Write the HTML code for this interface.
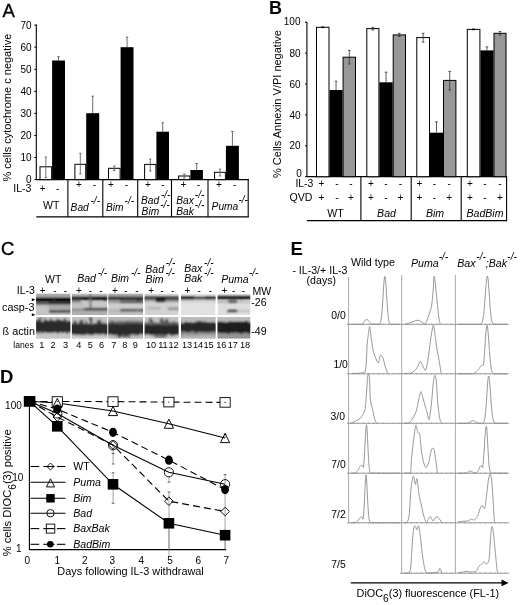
<!DOCTYPE html>
<html><head><meta charset="utf-8"><style>
html,body{margin:0;padding:0;background:#fff;}
svg{display:block;filter:grayscale(100%) blur(0.3px);}
text{font-family:"Liberation Sans", sans-serif;}
</style></head><body>
<svg width="520" height="605" viewBox="0 0 520 605">
<rect width="520" height="605" fill="#fff"/>
<text x="2.50" y="16.60" font-size="18.5" text-anchor="start" font-weight="normal" fill="#000" stroke="#000" stroke-width="0.35">A</text>
<line x1="36.30" y1="24.40" x2="36.30" y2="179.60" stroke="#000" stroke-width="1.1" />
<line x1="34.30" y1="179.60" x2="36.30" y2="179.60" stroke="#000" stroke-width="1" />
<text x="31.50" y="183.20" font-size="10" text-anchor="end" font-weight="normal" fill="#000" >0</text>
<line x1="34.30" y1="157.53" x2="36.30" y2="157.53" stroke="#000" stroke-width="1" />
<text x="31.50" y="161.13" font-size="10" text-anchor="end" font-weight="normal" fill="#000" >10</text>
<line x1="34.30" y1="135.46" x2="36.30" y2="135.46" stroke="#000" stroke-width="1" />
<text x="31.50" y="139.06" font-size="10" text-anchor="end" font-weight="normal" fill="#000" >20</text>
<line x1="34.30" y1="113.39" x2="36.30" y2="113.39" stroke="#000" stroke-width="1" />
<text x="31.50" y="116.99" font-size="10" text-anchor="end" font-weight="normal" fill="#000" >30</text>
<line x1="34.30" y1="91.32" x2="36.30" y2="91.32" stroke="#000" stroke-width="1" />
<text x="31.50" y="94.92" font-size="10" text-anchor="end" font-weight="normal" fill="#000" >40</text>
<line x1="34.30" y1="69.25" x2="36.30" y2="69.25" stroke="#000" stroke-width="1" />
<text x="31.50" y="72.85" font-size="10" text-anchor="end" font-weight="normal" fill="#000" >50</text>
<line x1="34.30" y1="47.18" x2="36.30" y2="47.18" stroke="#000" stroke-width="1" />
<text x="31.50" y="50.78" font-size="10" text-anchor="end" font-weight="normal" fill="#000" >60</text>
<line x1="34.30" y1="25.11" x2="36.30" y2="25.11" stroke="#000" stroke-width="1" />
<text x="31.50" y="28.71" font-size="10" text-anchor="end" font-weight="normal" fill="#000" >70</text>
<text transform="translate(11.1,181.6) rotate(-90)" font-size="11">% cells cytochrome c negative</text>
<line x1="36.00" y1="179.60" x2="249.00" y2="179.60" stroke="#000" stroke-width="1.2" />
<rect x="40.00" y="166.80" width="11.60" height="12.80" fill="#fff" stroke="#000" stroke-width="1" />
<line x1="45.80" y1="157.00" x2="45.80" y2="177.50" stroke="#555" stroke-width="0.8" />
<line x1="44.60" y1="157.00" x2="47.00" y2="157.00" stroke="#555" stroke-width="0.8" />
<line x1="44.60" y1="177.50" x2="47.00" y2="177.50" stroke="#555" stroke-width="0.8" />
<rect x="52.10" y="60.50" width="12.90" height="119.10" fill="#000" stroke="none" stroke-width="1" />
<line x1="58.55" y1="56.70" x2="58.55" y2="60.50" stroke="#444" stroke-width="0.8" />
<line x1="57.35" y1="56.70" x2="59.75" y2="56.70" stroke="#444" stroke-width="0.8" />
<rect x="74.90" y="164.30" width="10.80" height="15.30" fill="#fff" stroke="#000" stroke-width="1" />
<line x1="80.30" y1="153.30" x2="80.30" y2="174.00" stroke="#555" stroke-width="0.8" />
<line x1="79.10" y1="153.30" x2="81.50" y2="153.30" stroke="#555" stroke-width="0.8" />
<line x1="79.10" y1="174.00" x2="81.50" y2="174.00" stroke="#555" stroke-width="0.8" />
<rect x="86.20" y="113.20" width="13.00" height="66.40" fill="#000" stroke="none" stroke-width="1" />
<line x1="92.70" y1="96.20" x2="92.70" y2="113.20" stroke="#444" stroke-width="0.8" />
<line x1="91.50" y1="96.20" x2="93.90" y2="96.20" stroke="#444" stroke-width="0.8" />
<rect x="108.50" y="168.30" width="11.60" height="11.30" fill="#fff" stroke="#000" stroke-width="1" />
<line x1="114.30" y1="166.00" x2="114.30" y2="170.50" stroke="#555" stroke-width="0.8" />
<line x1="113.10" y1="166.00" x2="115.50" y2="166.00" stroke="#555" stroke-width="0.8" />
<line x1="113.10" y1="170.50" x2="115.50" y2="170.50" stroke="#555" stroke-width="0.8" />
<rect x="120.60" y="47.20" width="12.90" height="132.40" fill="#000" stroke="none" stroke-width="1" />
<line x1="127.05" y1="37.20" x2="127.05" y2="47.20" stroke="#444" stroke-width="0.8" />
<line x1="125.85" y1="37.20" x2="128.25" y2="37.20" stroke="#444" stroke-width="0.8" />
<rect x="144.60" y="164.40" width="11.30" height="15.20" fill="#fff" stroke="#000" stroke-width="1" />
<line x1="150.25" y1="159.00" x2="150.25" y2="171.00" stroke="#555" stroke-width="0.8" />
<line x1="149.05" y1="159.00" x2="151.45" y2="159.00" stroke="#555" stroke-width="0.8" />
<line x1="149.05" y1="171.00" x2="151.45" y2="171.00" stroke="#555" stroke-width="0.8" />
<rect x="156.40" y="131.70" width="12.60" height="47.90" fill="#000" stroke="none" stroke-width="1" />
<line x1="162.70" y1="122.70" x2="162.70" y2="131.70" stroke="#444" stroke-width="0.8" />
<line x1="161.50" y1="122.70" x2="163.90" y2="122.70" stroke="#444" stroke-width="0.8" />
<rect x="178.60" y="176.00" width="11.30" height="3.60" fill="#fff" stroke="#000" stroke-width="1" />
<line x1="184.25" y1="174.00" x2="184.25" y2="178.00" stroke="#555" stroke-width="0.8" />
<line x1="183.05" y1="174.00" x2="185.45" y2="174.00" stroke="#555" stroke-width="0.8" />
<line x1="183.05" y1="178.00" x2="185.45" y2="178.00" stroke="#555" stroke-width="0.8" />
<rect x="190.40" y="170.00" width="12.50" height="9.60" fill="#000" stroke="none" stroke-width="1" />
<line x1="196.65" y1="163.50" x2="196.65" y2="170.00" stroke="#444" stroke-width="0.8" />
<line x1="195.45" y1="163.50" x2="197.85" y2="163.50" stroke="#444" stroke-width="0.8" />
<rect x="214.60" y="172.30" width="10.80" height="7.30" fill="#fff" stroke="#000" stroke-width="1" />
<line x1="220.00" y1="169.20" x2="220.00" y2="176.00" stroke="#555" stroke-width="0.8" />
<line x1="218.80" y1="169.20" x2="221.20" y2="169.20" stroke="#555" stroke-width="0.8" />
<line x1="218.80" y1="176.00" x2="221.20" y2="176.00" stroke="#555" stroke-width="0.8" />
<rect x="225.90" y="145.80" width="13.00" height="33.80" fill="#000" stroke="none" stroke-width="1" />
<line x1="232.40" y1="131.50" x2="232.40" y2="145.80" stroke="#444" stroke-width="0.8" />
<line x1="231.20" y1="131.50" x2="233.60" y2="131.50" stroke="#444" stroke-width="0.8" />
<line x1="67.90" y1="179.60" x2="67.90" y2="217.00" stroke="#000" stroke-width="1.1" />
<line x1="102.80" y1="179.60" x2="102.80" y2="217.00" stroke="#000" stroke-width="1.1" />
<line x1="137.70" y1="179.60" x2="137.70" y2="217.00" stroke="#000" stroke-width="1.1" />
<line x1="171.50" y1="179.60" x2="171.50" y2="217.00" stroke="#000" stroke-width="1.1" />
<line x1="208.00" y1="179.60" x2="208.00" y2="217.00" stroke="#000" stroke-width="1.1" />
<line x1="248.20" y1="179.60" x2="248.20" y2="217.00" stroke="#000" stroke-width="1.1" />
<line x1="36.30" y1="216.80" x2="248.70" y2="216.80" stroke="#000" stroke-width="1.2" />
<text x="13.30" y="192.40" font-size="10.5" text-anchor="start" font-weight="normal" fill="#000" >IL-3</text>
<text x="42.60" y="191.90" font-size="10" text-anchor="middle" font-weight="normal" fill="#000" >+</text>
<text x="57.70" y="191.90" font-size="10" text-anchor="middle" font-weight="normal" fill="#000" >-</text>
<text x="78.90" y="188.40" font-size="10" text-anchor="middle" font-weight="normal" fill="#000" >+</text>
<text x="94.30" y="188.40" font-size="10" text-anchor="middle" font-weight="normal" fill="#000" >-</text>
<text x="110.80" y="188.40" font-size="10" text-anchor="middle" font-weight="normal" fill="#000" >+</text>
<text x="126.50" y="188.40" font-size="10" text-anchor="middle" font-weight="normal" fill="#000" >-</text>
<text x="148.00" y="188.40" font-size="10" text-anchor="middle" font-weight="normal" fill="#000" >+</text>
<text x="163.00" y="188.40" font-size="10" text-anchor="middle" font-weight="normal" fill="#000" >-</text>
<text x="183.50" y="188.40" font-size="10" text-anchor="middle" font-weight="normal" fill="#000" >+</text>
<text x="198.50" y="188.40" font-size="10" text-anchor="middle" font-weight="normal" fill="#000" >-</text>
<text x="218.90" y="188.40" font-size="10" text-anchor="middle" font-weight="normal" fill="#000" >+</text>
<text x="234.60" y="188.40" font-size="10" text-anchor="middle" font-weight="normal" fill="#000" >-</text>
<text x="43.00" y="208.50" font-size="10.5" text-anchor="start" font-weight="normal" fill="#000" >WT</text>
<text x="70.60" y="210.60" font-size="10.2" font-style="italic">Bad<tspan font-size="10" dx="1.8" dy="-6.2" font-style="italic">-/-</tspan></text>
<text x="106.00" y="210.60" font-size="10.2" font-style="italic">Bim<tspan font-size="10" dx="1.0" dy="-6.2" font-style="italic">-/-</tspan></text>
<text x="141.00" y="203.80" font-size="10.2" font-style="italic">Bad<tspan font-size="10" dx="1.8" dy="-6.2" font-style="italic">-/-</tspan></text>
<text x="141.60" y="214.60" font-size="10.2" font-style="italic">Bim<tspan font-size="10" dx="1.0" dy="-6.2" font-style="italic">-/-</tspan></text>
<text x="176.30" y="203.80" font-size="10.2" font-style="italic">Bax<tspan font-size="10" dx="1.0" dy="-6.2" font-style="italic">-/-</tspan></text>
<text x="176.30" y="214.60" font-size="10.2" font-style="italic">Bak<tspan font-size="10" dx="1.0" dy="-6.2" font-style="italic">-/-</tspan></text>
<text x="211.60" y="209.50" font-size="10.2" font-style="italic">Puma<tspan font-size="10" dx="0.3" dy="-6.2" font-style="italic">-/-</tspan></text>
<text x="269.00" y="13.80" font-size="18" text-anchor="start" font-weight="bold" fill="#000" >B</text>
<line x1="306.90" y1="22.00" x2="306.90" y2="176.70" stroke="#000" stroke-width="1.1" />
<line x1="305.00" y1="176.70" x2="306.90" y2="176.70" stroke="#000" stroke-width="1" />
<text x="301.80" y="176.90" font-size="10" text-anchor="end" font-weight="normal" fill="#000" >0</text>
<line x1="305.00" y1="145.80" x2="306.90" y2="145.80" stroke="#000" stroke-width="1" />
<text x="300.50" y="149.40" font-size="10" text-anchor="end" font-weight="normal" fill="#000" >20</text>
<line x1="305.00" y1="114.90" x2="306.90" y2="114.90" stroke="#000" stroke-width="1" />
<text x="300.50" y="118.50" font-size="10" text-anchor="end" font-weight="normal" fill="#000" >40</text>
<line x1="305.00" y1="84.00" x2="306.90" y2="84.00" stroke="#000" stroke-width="1" />
<text x="300.50" y="87.60" font-size="10" text-anchor="end" font-weight="normal" fill="#000" >60</text>
<line x1="305.00" y1="53.10" x2="306.90" y2="53.10" stroke="#000" stroke-width="1" />
<text x="300.50" y="56.70" font-size="10" text-anchor="end" font-weight="normal" fill="#000" >80</text>
<line x1="305.00" y1="22.20" x2="306.90" y2="22.20" stroke="#000" stroke-width="1" />
<text x="300.50" y="24.60" font-size="10" text-anchor="end" font-weight="normal" fill="#000" >100</text>
<text transform="translate(280.9,178.0) rotate(-90)" font-size="11">% Cells Annexin V/PI negative</text>
<line x1="306.50" y1="176.70" x2="507.00" y2="176.70" stroke="#000" stroke-width="1.2" />
<rect x="316.50" y="27.30" width="12.50" height="149.40" fill="#fff" stroke="#000" stroke-width="1" />
<line x1="321.25" y1="27.30" x2="324.25" y2="27.30" stroke="#000" stroke-width="1.6" />
<rect x="329.50" y="90.00" width="13.10" height="86.70" fill="#000" stroke="none" stroke-width="1" />
<line x1="336.05" y1="81.20" x2="336.05" y2="90.00" stroke="#333" stroke-width="0.8" />
<line x1="334.75" y1="81.20" x2="337.35" y2="81.20" stroke="#333" stroke-width="0.8" />
<rect x="343.10" y="57.20" width="12.40" height="119.50" fill="#989898" stroke="#000" stroke-width="1" />
<line x1="349.30" y1="50.40" x2="349.30" y2="64.00" stroke="#333" stroke-width="0.8" />
<line x1="348.00" y1="50.40" x2="350.60" y2="50.40" stroke="#333" stroke-width="0.8" />
<line x1="348.00" y1="64.00" x2="350.60" y2="64.00" stroke="#333" stroke-width="0.8" />
<rect x="366.80" y="28.60" width="12.10" height="148.10" fill="#fff" stroke="#000" stroke-width="1" />
<line x1="372.85" y1="27.30" x2="372.85" y2="30.00" stroke="#333" stroke-width="0.8" />
<line x1="371.55" y1="27.30" x2="374.15" y2="27.30" stroke="#333" stroke-width="0.8" />
<line x1="371.55" y1="30.00" x2="374.15" y2="30.00" stroke="#333" stroke-width="0.8" />
<rect x="379.40" y="82.30" width="13.30" height="94.40" fill="#000" stroke="none" stroke-width="1" />
<line x1="386.05" y1="72.20" x2="386.05" y2="82.30" stroke="#333" stroke-width="0.8" />
<line x1="384.75" y1="72.20" x2="387.35" y2="72.20" stroke="#333" stroke-width="0.8" />
<rect x="393.20" y="34.90" width="12.30" height="141.80" fill="#989898" stroke="#000" stroke-width="1" />
<line x1="399.35" y1="33.30" x2="399.35" y2="36.50" stroke="#333" stroke-width="0.8" />
<line x1="398.05" y1="33.30" x2="400.65" y2="33.30" stroke="#333" stroke-width="0.8" />
<line x1="398.05" y1="36.50" x2="400.65" y2="36.50" stroke="#333" stroke-width="0.8" />
<rect x="416.80" y="37.60" width="12.70" height="139.10" fill="#fff" stroke="#000" stroke-width="1" />
<line x1="423.15" y1="33.30" x2="423.15" y2="42.20" stroke="#333" stroke-width="0.8" />
<line x1="421.85" y1="33.30" x2="424.45" y2="33.30" stroke="#333" stroke-width="0.8" />
<line x1="421.85" y1="42.20" x2="424.45" y2="42.20" stroke="#333" stroke-width="0.8" />
<rect x="430.00" y="132.70" width="13.00" height="44.00" fill="#000" stroke="none" stroke-width="1" />
<line x1="436.50" y1="121.80" x2="436.50" y2="132.70" stroke="#333" stroke-width="0.8" />
<line x1="435.20" y1="121.80" x2="437.80" y2="121.80" stroke="#333" stroke-width="0.8" />
<rect x="443.50" y="80.40" width="12.40" height="96.30" fill="#989898" stroke="#000" stroke-width="1" />
<line x1="449.70" y1="71.40" x2="449.70" y2="90.00" stroke="#333" stroke-width="0.8" />
<line x1="448.40" y1="71.40" x2="451.00" y2="71.40" stroke="#333" stroke-width="0.8" />
<line x1="448.40" y1="90.00" x2="451.00" y2="90.00" stroke="#333" stroke-width="0.8" />
<rect x="467.30" y="29.40" width="12.60" height="147.30" fill="#fff" stroke="#000" stroke-width="1" />
<line x1="472.10" y1="29.40" x2="475.10" y2="29.40" stroke="#000" stroke-width="1.6" />
<rect x="480.40" y="50.40" width="13.10" height="126.30" fill="#000" stroke="none" stroke-width="1" />
<line x1="486.95" y1="46.90" x2="486.95" y2="50.40" stroke="#333" stroke-width="0.8" />
<line x1="485.65" y1="46.90" x2="488.25" y2="46.90" stroke="#333" stroke-width="0.8" />
<rect x="494.00" y="33.30" width="12.00" height="143.40" fill="#989898" stroke="#000" stroke-width="1" />
<line x1="500.00" y1="31.50" x2="500.00" y2="35.00" stroke="#333" stroke-width="0.8" />
<line x1="498.70" y1="31.50" x2="501.30" y2="31.50" stroke="#333" stroke-width="0.8" />
<line x1="498.70" y1="35.00" x2="501.30" y2="35.00" stroke="#333" stroke-width="0.8" />
<line x1="360.90" y1="176.70" x2="360.90" y2="220.80" stroke="#000" stroke-width="1.1" />
<line x1="411.20" y1="176.70" x2="411.20" y2="220.80" stroke="#000" stroke-width="1.1" />
<line x1="461.20" y1="176.70" x2="461.20" y2="220.80" stroke="#000" stroke-width="1.1" />
<line x1="506.60" y1="176.70" x2="506.60" y2="220.80" stroke="#000" stroke-width="1.1" />
<line x1="306.90" y1="220.60" x2="507.00" y2="220.60" stroke="#000" stroke-width="1.2" />
<text x="295.40" y="187.40" font-size="10.4" text-anchor="start" font-weight="normal" fill="#000" >IL-3</text>
<text x="289.40" y="201.40" font-size="10.6" text-anchor="start" font-weight="normal" fill="#000" >QVD</text>
<text x="321.30" y="187.20" font-size="10" text-anchor="middle" font-weight="normal" fill="#000" >+</text>
<text x="321.30" y="201.20" font-size="10" text-anchor="middle" font-weight="normal" fill="#000" >+</text>
<text x="337.00" y="187.20" font-size="10" text-anchor="middle" font-weight="normal" fill="#000" >-</text>
<text x="337.00" y="201.20" font-size="10" text-anchor="middle" font-weight="normal" fill="#000" >-</text>
<text x="350.90" y="187.20" font-size="10" text-anchor="middle" font-weight="normal" fill="#000" >-</text>
<text x="350.90" y="201.20" font-size="10" text-anchor="middle" font-weight="normal" fill="#000" >+</text>
<text x="370.80" y="187.20" font-size="10" text-anchor="middle" font-weight="normal" fill="#000" >+</text>
<text x="370.80" y="201.20" font-size="10" text-anchor="middle" font-weight="normal" fill="#000" >+</text>
<text x="385.80" y="187.20" font-size="10" text-anchor="middle" font-weight="normal" fill="#000" >-</text>
<text x="385.80" y="201.20" font-size="10" text-anchor="middle" font-weight="normal" fill="#000" >-</text>
<text x="400.30" y="187.20" font-size="10" text-anchor="middle" font-weight="normal" fill="#000" >-</text>
<text x="400.30" y="201.20" font-size="10" text-anchor="middle" font-weight="normal" fill="#000" >+</text>
<text x="419.50" y="187.20" font-size="10" text-anchor="middle" font-weight="normal" fill="#000" >+</text>
<text x="419.50" y="201.20" font-size="10" text-anchor="middle" font-weight="normal" fill="#000" >+</text>
<text x="434.50" y="187.20" font-size="10" text-anchor="middle" font-weight="normal" fill="#000" >-</text>
<text x="434.50" y="201.20" font-size="10" text-anchor="middle" font-weight="normal" fill="#000" >-</text>
<text x="449.20" y="187.20" font-size="10" text-anchor="middle" font-weight="normal" fill="#000" >-</text>
<text x="449.20" y="201.20" font-size="10" text-anchor="middle" font-weight="normal" fill="#000" >+</text>
<text x="470.00" y="187.20" font-size="10" text-anchor="middle" font-weight="normal" fill="#000" >+</text>
<text x="470.00" y="201.20" font-size="10" text-anchor="middle" font-weight="normal" fill="#000" >+</text>
<text x="485.00" y="187.20" font-size="10" text-anchor="middle" font-weight="normal" fill="#000" >-</text>
<text x="485.00" y="201.20" font-size="10" text-anchor="middle" font-weight="normal" fill="#000" >-</text>
<text x="500.00" y="187.20" font-size="10" text-anchor="middle" font-weight="normal" fill="#000" >-</text>
<text x="500.00" y="201.20" font-size="10" text-anchor="middle" font-weight="normal" fill="#000" >+</text>
<text x="335.60" y="216.80" font-size="10.6" text-anchor="middle" font-weight="normal" fill="#000" >WT</text>
<text x="386.50" y="216.80" font-size="10.6" text-anchor="middle" font-style="italic" font-weight="normal" fill="#000" >Bad</text>
<text x="435.00" y="216.80" font-size="10.6" text-anchor="middle" font-style="italic" font-weight="normal" fill="#000" >Bim</text>
<text x="485.00" y="216.80" font-size="10.6" text-anchor="middle" font-style="italic" font-weight="normal" fill="#000" >BadBim</text>
<text x="0.90" y="255.40" font-size="18.5" text-anchor="start" font-weight="normal" fill="#000" stroke="#000" stroke-width="0.35">C</text>
<text x="45.00" y="282.60" font-size="10.5" text-anchor="start" font-weight="normal" fill="#000" >WT</text>
<text x="77.20" y="282.30" font-size="10.5" font-style="italic">Bad<tspan font-size="10" dx="1.8" dy="-6.2">-/-</tspan></text>
<text x="111.00" y="282.30" font-size="10.5" font-style="italic">Bim<tspan font-size="10" dx="1.8" dy="-6.2">-/-</tspan></text>
<text x="145.30" y="272.50" font-size="10.5" font-style="italic">Bad<tspan font-size="10" dx="1.8" dy="-6.2">-/-</tspan></text>
<text x="145.50" y="282.50" font-size="10.5" font-style="italic">Bim<tspan font-size="10" dx="1.8" dy="-6.2">-/-</tspan></text>
<text x="184.20" y="271.80" font-size="10.5" font-style="italic">Bax<tspan font-size="10" dx="1.8" dy="-6.2">-/-</tspan></text>
<text x="184.20" y="282.30" font-size="10.5" font-style="italic">Bak<tspan font-size="10" dx="1.8" dy="-6.2">-/-</tspan></text>
<text x="221.20" y="283.00" font-size="10.5" font-style="italic">Puma<tspan font-size="10" dx="0.3" dy="-7.5">-/-</tspan></text>
<text x="16.80" y="294.00" font-size="10.5" text-anchor="start" font-weight="normal" fill="#000" >IL-3</text>
<text x="42.70" y="294.00" font-size="10" text-anchor="middle" font-weight="normal" fill="#000" >+</text>
<text x="54.80" y="294.00" font-size="10" text-anchor="middle" font-weight="normal" fill="#000" >-</text>
<text x="65.40" y="294.00" font-size="10" text-anchor="middle" font-weight="normal" fill="#000" >-</text>
<text x="78.90" y="294.00" font-size="10" text-anchor="middle" font-weight="normal" fill="#000" >+</text>
<text x="90.30" y="294.00" font-size="10" text-anchor="middle" font-weight="normal" fill="#000" >-</text>
<text x="101.00" y="294.00" font-size="10" text-anchor="middle" font-weight="normal" fill="#000" >-</text>
<text x="114.80" y="294.00" font-size="10" text-anchor="middle" font-weight="normal" fill="#000" >+</text>
<text x="125.80" y="294.00" font-size="10" text-anchor="middle" font-weight="normal" fill="#000" >-</text>
<text x="136.90" y="294.00" font-size="10" text-anchor="middle" font-weight="normal" fill="#000" >-</text>
<text x="151.10" y="294.00" font-size="10" text-anchor="middle" font-weight="normal" fill="#000" >+</text>
<text x="162.00" y="294.00" font-size="10" text-anchor="middle" font-weight="normal" fill="#000" >-</text>
<text x="172.70" y="294.00" font-size="10" text-anchor="middle" font-weight="normal" fill="#000" >-</text>
<text x="187.40" y="294.00" font-size="10" text-anchor="middle" font-weight="normal" fill="#000" >+</text>
<text x="199.20" y="294.00" font-size="10" text-anchor="middle" font-weight="normal" fill="#000" >-</text>
<text x="210.30" y="294.00" font-size="10" text-anchor="middle" font-weight="normal" fill="#000" >-</text>
<text x="224.30" y="294.00" font-size="10" text-anchor="middle" font-weight="normal" fill="#000" >+</text>
<text x="233.60" y="294.00" font-size="10" text-anchor="middle" font-weight="normal" fill="#000" >-</text>
<text x="243.40" y="294.00" font-size="10" text-anchor="middle" font-weight="normal" fill="#000" >-</text>
<text x="252.40" y="295.30" font-size="10.5" text-anchor="start" font-weight="normal" fill="#000" >MW</text>
<text x="251.30" y="306.40" font-size="10.5" text-anchor="start" font-weight="normal" fill="#000" >-26</text>
<text x="251.30" y="335.40" font-size="10.5" text-anchor="start" font-weight="normal" fill="#000" >-49</text>
<text x="2.00" y="311.00" font-size="10.8" text-anchor="start" font-weight="normal" fill="#000" >casp-3</text>
<text x="2.60" y="335.00" font-size="10.8" text-anchor="start" font-weight="normal" fill="#000" >ß actin</text>
<text x="13.30" y="348.00" font-size="8.6" text-anchor="start" font-weight="normal" fill="#000" >lanes</text>
<text x="41.80" y="348.10" font-size="9.2" text-anchor="middle" font-weight="normal" fill="#000" >1</text>
<text x="53.10" y="348.10" font-size="9.2" text-anchor="middle" font-weight="normal" fill="#000" >2</text>
<text x="65.50" y="348.10" font-size="9.2" text-anchor="middle" font-weight="normal" fill="#000" >3</text>
<text x="78.70" y="348.10" font-size="9.2" text-anchor="middle" font-weight="normal" fill="#000" >4</text>
<text x="90.30" y="348.10" font-size="9.2" text-anchor="middle" font-weight="normal" fill="#000" >5</text>
<text x="101.60" y="348.10" font-size="9.2" text-anchor="middle" font-weight="normal" fill="#000" >6</text>
<text x="113.70" y="348.10" font-size="9.2" text-anchor="middle" font-weight="normal" fill="#000" >7</text>
<text x="124.80" y="348.10" font-size="9.2" text-anchor="middle" font-weight="normal" fill="#000" >8</text>
<text x="135.30" y="348.10" font-size="9.2" text-anchor="middle" font-weight="normal" fill="#000" >9</text>
<text x="151.00" y="348.10" font-size="9.2" text-anchor="middle" font-weight="normal" fill="#000" >10</text>
<text x="162.90" y="348.10" font-size="9.2" text-anchor="middle" font-weight="normal" fill="#000" >11</text>
<text x="173.50" y="348.10" font-size="9.2" text-anchor="middle" font-weight="normal" fill="#000" >12</text>
<text x="187.00" y="348.10" font-size="9.2" text-anchor="middle" font-weight="normal" fill="#000" >13</text>
<text x="198.00" y="348.10" font-size="9.2" text-anchor="middle" font-weight="normal" fill="#000" >14</text>
<text x="208.60" y="348.10" font-size="9.2" text-anchor="middle" font-weight="normal" fill="#000" >15</text>
<text x="221.30" y="348.10" font-size="9.2" text-anchor="middle" font-weight="normal" fill="#000" >16</text>
<text x="232.80" y="348.10" font-size="9.2" text-anchor="middle" font-weight="normal" fill="#000" >17</text>
<text x="245.00" y="348.10" font-size="9.2" text-anchor="middle" font-weight="normal" fill="#000" >18</text>
<path d="M31.8,298.2 L35.4,299.7 L31.8,301.2 Z" fill="#000"/>
<path d="M31.8,313.2 L35.4,314.7 L31.8,316.2 Z" fill="#000"/>
<defs><filter id="bl" x="-10%" y="-10%" width="120%" height="120%"><feGaussianBlur stdDeviation="1.1"/></filter><filter id="bl2" x="-10%" y="-10%" width="120%" height="120%"><feGaussianBlur stdDeviation="0.45"/></filter><filter id="ad" x="-5%" y="-20%" width="110%" height="140%"><feTurbulence type="fractalNoise" baseFrequency="0.45 0.15" numOctaves="2" seed="7" result="n"/><feDisplacementMap in="SourceGraphic" in2="n" scale="4" xChannelSelector="R" yChannelSelector="G" result="d"/><feGaussianBlur in="d" stdDeviation="0.8"/></filter><filter id="cd" x="-5%" y="-20%" width="110%" height="140%"><feTurbulence type="fractalNoise" baseFrequency="0.3 0.3" numOctaves="2" seed="11" result="n"/><feDisplacementMap in="SourceGraphic" in2="n" scale="1.8" xChannelSelector="R" yChannelSelector="G" result="d"/><feGaussianBlur in="d" stdDeviation="0.8"/></filter><filter id="gr" x="0" y="0" width="100%" height="100%"><feTurbulence type="fractalNoise" baseFrequency="0.9" numOctaves="1" seed="5"/><feColorMatrix type="matrix" values="0 0 0 0 0.5  0 0 0 0 0.5  0 0 0 0 0.5  0 0 0 1.6 -0.55"/></filter>
<clipPath id="cc0"><rect x="36.1" y="293.6" width="34.30" height="21.40"/></clipPath>
<clipPath id="ca0"><rect x="36.1" y="316.9" width="34.30" height="21.70"/></clipPath>
<clipPath id="cc1"><rect x="71.9" y="293.6" width="35.40" height="21.40"/></clipPath>
<clipPath id="ca1"><rect x="71.9" y="316.9" width="35.40" height="21.70"/></clipPath>
<clipPath id="cc2"><rect x="108.3" y="293.6" width="34.70" height="21.40"/></clipPath>
<clipPath id="ca2"><rect x="108.3" y="316.9" width="34.70" height="21.70"/></clipPath>
<clipPath id="cc3"><rect x="144.6" y="293.6" width="34.00" height="21.40"/></clipPath>
<clipPath id="ca3"><rect x="144.6" y="316.9" width="34.00" height="21.70"/></clipPath>
<clipPath id="cc4"><rect x="181.0" y="293.6" width="34.60" height="21.40"/></clipPath>
<clipPath id="ca4"><rect x="181.0" y="316.9" width="34.60" height="21.70"/></clipPath>
<clipPath id="cc5"><rect x="217.5" y="293.6" width="32.80" height="21.40"/></clipPath>
<clipPath id="ca5"><rect x="217.5" y="316.9" width="32.80" height="21.70"/></clipPath>
</defs>
<g clip-path="url(#cc0)"><rect x="36.1" y="293.6" width="34.30" height="21.40" fill="#bdbdbd"/><g filter="url(#cd)">
<rect x="34.00" y="293.60" width="39.00" height="3.70" fill="#a8a8a8" stroke="none" stroke-width="1" />
<rect x="34.00" y="305.50" width="14.60" height="8.00" fill="#c6c6c6" stroke="none" stroke-width="1" />
<rect x="48.60" y="305.00" width="24.40" height="4.80" fill="#ababab" stroke="none" stroke-width="1" />
<rect x="34.00" y="297.50" width="39.00" height="4.00" fill="#050505" stroke="none" stroke-width="1" />
<rect x="34.00" y="302.40" width="14.60" height="2.20" fill="#333" stroke="none" stroke-width="1" />
<rect x="48.60" y="301.50" width="24.40" height="3.10" fill="#2a2a2a" stroke="none" stroke-width="1" />
<rect x="49.00" y="310.20" width="24.00" height="2.60" fill="#2a2a2a" stroke="none" stroke-width="1" />
<rect x="34.00" y="313.20" width="39.00" height="3.80" fill="#c2c2c2" stroke="none" stroke-width="1" />
</g></g>
<g clip-path="url(#ca0)"><rect x="36.1" y="316.9" width="34.30" height="21.70" fill="#c2c2c2"/><g filter="url(#ad)">
<rect x="34.00" y="321.00" width="39.00" height="12.00" fill="#2b2b2b" stroke="none" stroke-width="1" />
<rect x="38.00" y="318.50" width="3.00" height="3.00" fill="#3a3a3a" stroke="none" stroke-width="1" />
<rect x="44.00" y="318.00" width="2.00" height="3.50" fill="#444" stroke="none" stroke-width="1" />
<rect x="50.00" y="319.00" width="2.00" height="2.50" fill="#3a3a3a" stroke="none" stroke-width="1" />
<rect x="57.00" y="318.50" width="2.00" height="3.00" fill="#444" stroke="none" stroke-width="1" />
<rect x="64.00" y="318.20" width="2.00" height="3.30" fill="#3a3a3a" stroke="none" stroke-width="1" />
<rect x="34.00" y="333.00" width="39.00" height="8.00" fill="#c8c8c8" stroke="none" stroke-width="1" />
</g></g>
<g clip-path="url(#cc1)"><rect x="71.9" y="293.6" width="35.40" height="21.40" fill="#c8c8c8"/><g filter="url(#cd)">
<rect x="70.00" y="293.60" width="40.00" height="2.90" fill="#bbbbbb" stroke="none" stroke-width="1" />
<rect x="70.00" y="296.40" width="40.00" height="3.40" fill="#000" stroke="none" stroke-width="1" />
<rect x="70.00" y="299.50" width="11.00" height="2.80" fill="#707070" stroke="none" stroke-width="1" />
<rect x="70.00" y="302.30" width="14.00" height="3.70" fill="#bdbdbd" stroke="none" stroke-width="1" />
<rect x="89.70" y="293.50" width="1.60" height="15.50" fill="#6a6a6a" stroke="none" stroke-width="1" />
<rect x="84.00" y="308.40" width="26.00" height="2.20" fill="#262626" stroke="none" stroke-width="1" />
<rect x="70.00" y="308.50" width="14.00" height="2.30" fill="#8a8a8a" stroke="none" stroke-width="1" />
<rect x="70.00" y="311.00" width="40.00" height="6.00" fill="#b0b0b0" stroke="none" stroke-width="1" />
</g></g>
<g clip-path="url(#ca1)"><rect x="71.9" y="316.9" width="35.40" height="21.70" fill="#c4c4c4"/><g filter="url(#ad)">
<rect x="70.00" y="324.00" width="40.00" height="11.00" fill="#2a2a2a" stroke="none" stroke-width="1" />
<rect x="89.50" y="317.00" width="2.50" height="7.00" fill="#333" stroke="none" stroke-width="1" />
<rect x="74.00" y="321.00" width="3.00" height="3.00" fill="#4a4a4a" stroke="none" stroke-width="1" />
<rect x="80.00" y="320.00" width="3.00" height="4.00" fill="#4a4a4a" stroke="none" stroke-width="1" />
<rect x="85.00" y="321.50" width="2.00" height="2.50" fill="#5a5a5a" stroke="none" stroke-width="1" />
<rect x="97.00" y="320.50" width="4.00" height="3.50" fill="#4a4a4a" stroke="none" stroke-width="1" />
<rect x="103.00" y="321.50" width="3.00" height="2.50" fill="#5a5a5a" stroke="none" stroke-width="1" />
<rect x="70.00" y="335.00" width="40.00" height="6.00" fill="#cacaca" stroke="none" stroke-width="1" />
</g></g>
<g clip-path="url(#cc2)"><rect x="108.3" y="293.6" width="34.70" height="21.40" fill="#cecece"/><g filter="url(#cd)">
<rect x="106.00" y="293.60" width="40.00" height="3.40" fill="#a6a6a6" stroke="none" stroke-width="1" />
<rect x="106.00" y="296.80" width="40.00" height="3.00" fill="#000" stroke="none" stroke-width="1" />
<rect x="106.00" y="300.60" width="14.00" height="2.20" fill="#8a8a8a" stroke="none" stroke-width="1" />
<rect x="120.00" y="300.60" width="26.00" height="2.40" fill="#505050" stroke="none" stroke-width="1" />
<rect x="120.00" y="309.50" width="26.00" height="2.10" fill="#2a2a2a" stroke="none" stroke-width="1" />
<rect x="106.00" y="309.60" width="14.00" height="1.80" fill="#a8a8a8" stroke="none" stroke-width="1" />
<rect x="106.00" y="312.00" width="40.00" height="5.00" fill="#c2c2c2" stroke="none" stroke-width="1" />
</g></g>
<g clip-path="url(#ca2)"><rect x="108.3" y="316.9" width="34.70" height="21.70" fill="#b0b0b0"/><g filter="url(#ad)">
<rect x="106.00" y="316.00" width="40.00" height="5.00" fill="#b8b8b8" stroke="none" stroke-width="1" />
<rect x="106.00" y="321.00" width="40.00" height="2.50" fill="#666" stroke="none" stroke-width="1" />
<rect x="106.00" y="323.50" width="40.00" height="11.50" fill="#2a2a2a" stroke="none" stroke-width="1" />
<rect x="106.00" y="335.00" width="40.00" height="6.00" fill="#bcbcbc" stroke="none" stroke-width="1" />
<rect x="118.00" y="335.00" width="12.00" height="3.00" fill="#555" stroke="none" stroke-width="1" />
</g></g>
<g clip-path="url(#cc3)"><rect x="144.6" y="293.6" width="34.00" height="21.40" fill="#d2d2d2"/><g filter="url(#cd)">
<rect x="142.00" y="296.80" width="39.00" height="3.00" fill="#000" stroke="none" stroke-width="1" />
<rect x="155.50" y="299.30" width="10.00" height="2.70" fill="#2a2a2a" stroke="none" stroke-width="1" />
<rect x="165.50" y="299.30" width="15.50" height="2.50" fill="#888" stroke="none" stroke-width="1" />
<rect x="142.00" y="299.30" width="13.50" height="2.00" fill="#999" stroke="none" stroke-width="1" />
<rect x="148.00" y="307.00" width="12.00" height="2.50" fill="#b4b4b4" stroke="none" stroke-width="1" />
<rect x="168.00" y="307.50" width="13.00" height="2.30" fill="#8a8a8a" stroke="none" stroke-width="1" />
</g></g>
<g clip-path="url(#ca3)"><rect x="144.6" y="316.9" width="34.00" height="21.70" fill="#c2c2c2"/><g filter="url(#ad)">
<rect x="142.00" y="325.00" width="39.00" height="10.00" fill="#262626" stroke="none" stroke-width="1" />
<rect x="142.00" y="322.50" width="39.00" height="2.50" fill="#5a5a5a" stroke="none" stroke-width="1" />
<rect x="150.00" y="319.00" width="2.00" height="4.00" fill="#4a4a4a" stroke="none" stroke-width="1" />
<rect x="160.00" y="318.00" width="3.00" height="5.00" fill="#444" stroke="none" stroke-width="1" />
<rect x="166.00" y="319.00" width="2.00" height="4.00" fill="#4a4a4a" stroke="none" stroke-width="1" />
<rect x="142.00" y="335.00" width="39.00" height="6.00" fill="#c8c8c8" stroke="none" stroke-width="1" />
<rect x="155.00" y="335.50" width="13.00" height="2.50" fill="#5a5a5a" stroke="none" stroke-width="1" />
</g></g>
<g clip-path="url(#cc4)"><rect x="181.0" y="293.6" width="34.60" height="21.40" fill="#e2e2e2"/><g filter="url(#cd)">
<rect x="178.00" y="296.60" width="16.50" height="3.20" fill="#000" stroke="none" stroke-width="1" />
<rect x="194.50" y="297.00" width="10.00" height="2.50" fill="#1a1a1a" stroke="none" stroke-width="1" />
<rect x="204.50" y="296.80" width="13.50" height="2.90" fill="#000" stroke="none" stroke-width="1" />
<rect x="178.00" y="300.00" width="40.00" height="3.00" fill="#d6d6d6" stroke="none" stroke-width="1" />
</g></g>
<g clip-path="url(#ca4)"><rect x="181.0" y="316.9" width="34.60" height="21.70" fill="#b2b2b2"/><g filter="url(#ad)">
<rect x="178.00" y="316.00" width="40.00" height="5.00" fill="#bcbcbc" stroke="none" stroke-width="1" />
<rect x="178.00" y="322.50" width="40.00" height="10.00" fill="#262626" stroke="none" stroke-width="1" />
<rect x="195.00" y="321.00" width="7.00" height="2.00" fill="#3a3a3a" stroke="none" stroke-width="1" />
<rect x="178.00" y="332.50" width="40.00" height="2.50" fill="#8e8e8e" stroke="none" stroke-width="1" />
<rect x="178.00" y="335.00" width="40.00" height="6.00" fill="#b6b6b6" stroke="none" stroke-width="1" />
</g></g>
<g clip-path="url(#cc5)"><rect x="217.5" y="293.6" width="32.80" height="21.40" fill="#dedede"/><g filter="url(#cd)">
<rect x="215.00" y="296.20" width="38.00" height="3.00" fill="#000" stroke="none" stroke-width="1" />
<rect x="215.00" y="301.20" width="13.00" height="1.60" fill="#a6a6a6" stroke="none" stroke-width="1" />
<rect x="228.00" y="300.60" width="9.50" height="2.00" fill="#2a2a2a" stroke="none" stroke-width="1" />
<rect x="237.50" y="301.20" width="15.50" height="1.60" fill="#b4b4b4" stroke="none" stroke-width="1" />
<rect x="228.00" y="309.90" width="9.50" height="2.10" fill="#2a2a2a" stroke="none" stroke-width="1" />
<rect x="237.50" y="310.20" width="15.50" height="1.60" fill="#bababa" stroke="none" stroke-width="1" />
</g></g>
<g clip-path="url(#ca5)"><rect x="217.5" y="316.9" width="32.80" height="21.70" fill="#c0c0c0"/><g filter="url(#ad)">
<rect x="215.00" y="321.50" width="38.00" height="12.00" fill="#1c1c1c" stroke="none" stroke-width="1" />
<rect x="215.00" y="333.50" width="38.00" height="7.50" fill="#959595" stroke="none" stroke-width="1" />
<rect x="215.00" y="316.00" width="38.00" height="5.00" fill="#bcbcbc" stroke="none" stroke-width="1" />
</g></g>
<text x="-0.10" y="382.60" font-size="18.5" text-anchor="start" font-weight="bold" fill="#000" >D</text>
<line x1="29.40" y1="401.00" x2="29.40" y2="549.60" stroke="#000" stroke-width="1.1" />
<line x1="29.00" y1="549.60" x2="226.30" y2="549.60" stroke="#000" stroke-width="1.2" />
<text x="27.30" y="563.60" font-size="10" text-anchor="middle" font-weight="normal" fill="#000" >0</text>
<text x="57.20" y="563.60" font-size="10" text-anchor="middle" font-weight="normal" fill="#000" >1</text>
<text x="84.70" y="563.60" font-size="10" text-anchor="middle" font-weight="normal" fill="#000" >2</text>
<text x="112.30" y="563.60" font-size="10" text-anchor="middle" font-weight="normal" fill="#000" >3</text>
<text x="141.20" y="563.60" font-size="10" text-anchor="middle" font-weight="normal" fill="#000" >4</text>
<text x="170.10" y="563.60" font-size="10" text-anchor="middle" font-weight="normal" fill="#000" >5</text>
<text x="198.20" y="563.60" font-size="10" text-anchor="middle" font-weight="normal" fill="#000" >6</text>
<text x="226.20" y="563.60" font-size="10" text-anchor="middle" font-weight="normal" fill="#000" >7</text>
<text x="21.80" y="409.40" font-size="10" text-anchor="end" font-weight="normal" fill="#000" >100</text>
<text x="23.40" y="481.30" font-size="10" text-anchor="end" font-weight="normal" fill="#000" >10</text>
<text x="21.60" y="551.60" font-size="10" text-anchor="end" font-weight="normal" fill="#000" >1</text>
<text transform="translate(11.3,556.3) rotate(-90)" font-size="11.2">% cells DIOC<tspan font-size="10.2" dy="5">6</tspan><tspan dy="-5">(3) positive</tspan></text>
<text x="57.30" y="575.20" font-size="10.9" text-anchor="start" font-weight="normal" fill="#000" >Days following IL-3 withdrawal</text>
<line x1="113.10" y1="445.00" x2="113.10" y2="464.00" stroke="#8a8a8a" stroke-width="0.8" />
<line x1="111.70" y1="453.50" x2="114.50" y2="453.50" stroke="#555" stroke-width="0.9" />
<line x1="111.70" y1="464.00" x2="114.50" y2="464.00" stroke="#555" stroke-width="0.9" />
<line x1="113.10" y1="472.80" x2="113.10" y2="503.30" stroke="#8a8a8a" stroke-width="0.8" />
<line x1="111.70" y1="472.80" x2="114.50" y2="472.80" stroke="#555" stroke-width="0.9" />
<line x1="111.70" y1="503.30" x2="114.50" y2="503.30" stroke="#555" stroke-width="0.9" />
<line x1="169.00" y1="476.00" x2="169.00" y2="482.20" stroke="#8a8a8a" stroke-width="0.8" />
<line x1="167.60" y1="482.20" x2="170.40" y2="482.20" stroke="#555" stroke-width="0.9" />
<line x1="169.00" y1="492.00" x2="169.00" y2="518.00" stroke="#8a8a8a" stroke-width="0.8" />
<line x1="167.60" y1="492.00" x2="170.40" y2="492.00" stroke="#555" stroke-width="0.9" />
<line x1="169.00" y1="528.50" x2="169.00" y2="549.60" stroke="#444" stroke-width="0.8" />
<line x1="225.10" y1="474.60" x2="225.10" y2="530.00" stroke="#8a8a8a" stroke-width="0.8" />
<line x1="223.70" y1="474.60" x2="226.50" y2="474.60" stroke="#555" stroke-width="0.9" />
<line x1="225.10" y1="540.00" x2="225.10" y2="549.60" stroke="#444" stroke-width="0.8" />
<line x1="169.00" y1="549.60" x2="169.00" y2="556.00" stroke="#999" stroke-width="0.8" />
<line x1="225.10" y1="434.20" x2="225.10" y2="438.00" stroke="#8a8a8a" stroke-width="0.8" />
<line x1="223.70" y1="434.20" x2="226.50" y2="434.20" stroke="#555" stroke-width="0.9" />
<polyline points="29.50,401.30 57.30,417.00 113.00,445.00 168.90,501.20 225.10,511.50" fill="none" stroke="#000" stroke-width="1.1" stroke-dasharray="7,4"/>
<polyline points="29.50,401.30 57.30,403.00 113.00,411.00 168.90,423.70 225.10,438.00" fill="none" stroke="#000" stroke-width="1.1" />
<polyline points="29.50,401.30 57.30,426.30 113.00,484.30 168.90,523.30 225.10,535.20" fill="none" stroke="#000" stroke-width="1.1" />
<polyline points="29.50,401.30 57.30,413.50 113.00,445.20 168.90,472.30 225.10,484.20" fill="none" stroke="#000" stroke-width="1.1" />
<polyline points="29.50,401.50 57.30,401.50 113.00,401.60 168.90,402.10 225.10,402.40" fill="none" stroke="#000" stroke-width="1.1" stroke-dasharray="7,4"/>
<polyline points="29.50,401.30 57.30,409.20 113.00,432.30 168.90,460.20 225.10,489.60" fill="none" stroke="#000" stroke-width="1.1" stroke-dasharray="7,4"/>
<rect x="52.20" y="396.70" width="10.20" height="9.60" fill="#fff" stroke="#000" stroke-width="0.9" />
<circle cx="57.30" cy="401.50" r="0.6" fill="#000"/>
<rect x="107.90" y="396.80" width="10.20" height="9.60" fill="#fff" stroke="#000" stroke-width="0.9" />
<circle cx="113.00" cy="401.60" r="0.6" fill="#000"/>
<rect x="163.80" y="397.30" width="10.20" height="9.60" fill="#fff" stroke="#000" stroke-width="0.9" />
<circle cx="168.90" cy="402.10" r="0.6" fill="#000"/>
<rect x="220.00" y="397.60" width="10.20" height="9.60" fill="#fff" stroke="#000" stroke-width="0.9" />
<circle cx="225.10" cy="402.40" r="0.6" fill="#000"/>
<path d="M57.30,398.40 L61.90,407.60 L52.70,407.60 Z" fill="none" stroke="#000" stroke-width="0.95" stroke-linejoin="round"/>
<path d="M113.00,406.40 L117.60,415.60 L108.40,415.60 Z" fill="none" stroke="#000" stroke-width="0.95" stroke-linejoin="round"/>
<path d="M168.90,419.10 L173.50,428.30 L164.30,428.30 Z" fill="none" stroke="#000" stroke-width="0.95" stroke-linejoin="round"/>
<path d="M225.10,433.40 L229.70,442.60 L220.50,442.60 Z" fill="none" stroke="#000" stroke-width="0.95" stroke-linejoin="round"/>
<circle cx="57.30" cy="413.50" r="4.60" fill="none" stroke="#000" stroke-width="0.9"/>
<circle cx="113.00" cy="445.20" r="4.60" fill="none" stroke="#000" stroke-width="0.9"/>
<circle cx="168.90" cy="472.30" r="4.60" fill="none" stroke="#000" stroke-width="0.9"/>
<circle cx="225.10" cy="484.20" r="4.60" fill="none" stroke="#000" stroke-width="0.9"/>
<path d="M57.30,412.70 L61.60,417.00 L57.30,421.30 L53.00,417.00 Z" fill="none" stroke="#000" stroke-width="0.9"/>
<path d="M113.00,440.70 L117.30,445.00 L113.00,449.30 L108.70,445.00 Z" fill="none" stroke="#000" stroke-width="0.9"/>
<path d="M168.90,496.90 L173.20,501.20 L168.90,505.50 L164.60,501.20 Z" fill="none" stroke="#000" stroke-width="0.9"/>
<path d="M225.10,507.20 L229.40,511.50 L225.10,515.80 L220.80,511.50 Z" fill="none" stroke="#000" stroke-width="0.9"/>
<ellipse cx="57.30" cy="409.20" rx="3.95" ry="4.60" fill="#000"/>
<ellipse cx="113.00" cy="432.30" rx="3.95" ry="4.60" fill="#000"/>
<ellipse cx="168.90" cy="460.20" rx="3.95" ry="4.60" fill="#000"/>
<ellipse cx="225.10" cy="489.60" rx="3.95" ry="4.60" fill="#000"/>
<rect x="52.00" y="421.00" width="10.60" height="10.60" fill="#000" stroke="none" stroke-width="1" />
<rect x="107.70" y="479.00" width="10.60" height="10.60" fill="#000" stroke="none" stroke-width="1" />
<rect x="163.60" y="518.00" width="10.60" height="10.60" fill="#000" stroke="none" stroke-width="1" />
<rect x="219.80" y="529.90" width="10.60" height="10.60" fill="#000" stroke="none" stroke-width="1" />
<rect x="23.80" y="396.00" width="11.60" height="10.80" fill="#000" stroke="none" stroke-width="1" />
<line x1="30.60" y1="466.50" x2="39.20" y2="466.50" stroke="#000" stroke-width="1.1" />
<line x1="43.30" y1="466.50" x2="54.60" y2="466.50" stroke="#000" stroke-width="1.1" />
<line x1="56.90" y1="466.50" x2="65.40" y2="466.50" stroke="#000" stroke-width="1.1" />
<path d="M50.50,463.06 L53.94,466.50 L50.50,469.94 L47.06,466.50 Z" fill="none" stroke="#000" stroke-width="0.9"/>
<text x="73.20" y="470.30" font-size="10.6" text-anchor="start" font-weight="normal" fill="#000" >WT</text>
<line x1="30.50" y1="482.30" x2="65.50" y2="482.30" stroke="#000" stroke-width="1.1" />
<path d="M50.50,478.85 L54.55,486.95 L46.45,486.95 Z" fill="none" stroke="#000" stroke-width="0.95" stroke-linejoin="round"/>
<text x="73.20" y="486.10" font-size="10.6" text-anchor="start" font-style="italic" font-weight="normal" fill="#000" >Puma</text>
<line x1="30.50" y1="498.30" x2="65.50" y2="498.30" stroke="#000" stroke-width="1.1" />
<rect x="46.26" y="494.06" width="8.48" height="8.48" fill="#000" stroke="none" stroke-width="1" />
<text x="73.20" y="502.10" font-size="10.6" text-anchor="start" font-style="italic" font-weight="normal" fill="#000" >Bim</text>
<line x1="30.50" y1="513.20" x2="65.50" y2="513.20" stroke="#000" stroke-width="1.1" />
<circle cx="50.50" cy="513.20" r="3.68" fill="none" stroke="#000" stroke-width="0.9"/>
<text x="73.20" y="517.00" font-size="10.6" text-anchor="start" font-style="italic" font-weight="normal" fill="#000" >Bad</text>
<line x1="30.60" y1="528.60" x2="39.20" y2="528.60" stroke="#000" stroke-width="1.1" />
<line x1="43.30" y1="528.60" x2="54.60" y2="528.60" stroke="#000" stroke-width="1.1" />
<line x1="56.90" y1="528.60" x2="65.40" y2="528.60" stroke="#000" stroke-width="1.1" />
<rect x="46.30" y="524.10" width="8.50" height="9.00" fill="none" stroke="#000" stroke-width="0.9" />
<text x="73.20" y="532.40" font-size="10.6" text-anchor="start" font-style="italic" font-weight="normal" fill="#000" >BaxBak</text>
<line x1="30.60" y1="544.30" x2="39.20" y2="544.30" stroke="#000" stroke-width="1.1" />
<line x1="43.30" y1="544.30" x2="54.60" y2="544.30" stroke="#000" stroke-width="1.1" />
<line x1="56.90" y1="544.30" x2="65.40" y2="544.30" stroke="#000" stroke-width="1.1" />
<circle cx="50.3" cy="544.30" r="3.3" fill="#000"/>
<text x="73.20" y="548.10" font-size="10.6" text-anchor="start" font-style="italic" font-weight="normal" fill="#000" >BadBim</text>
<text x="290.60" y="254.80" font-size="18.5" text-anchor="start" font-weight="bold" fill="#000" >E</text>
<text x="292.40" y="273.50" font-size="10.6" text-anchor="start" font-weight="normal" fill="#000" >- IL-3/+ IL-3</text>
<text x="306.60" y="283.60" font-size="10.6" text-anchor="start" font-weight="normal" fill="#000" >(days)</text>
<text x="351.00" y="265.60" font-size="10.7" text-anchor="start" font-weight="normal" fill="#000" >Wild type</text>
<text x="411.0" y="266.5" font-size="10.6" font-style="italic">Puma<tspan font-size="10" dx="0" dy="-6.2">-/-</tspan></text>
<text x="457.3" y="266.5" font-size="10.6" font-style="italic">Bax<tspan font-size="10" dx="0.8" dy="-6.2">-/-</tspan><tspan dy="6.2">;Bak</tspan><tspan font-size="10" dx="0.3" dy="-6.2">-/-</tspan></text>
<text x="345.80" y="318.90" font-size="10.4" text-anchor="end" font-weight="normal" fill="#000" >0/0</text>
<text x="347.90" y="368.20" font-size="10.4" text-anchor="end" font-weight="normal" fill="#000" >1/0</text>
<text x="345.00" y="419.50" font-size="10.4" text-anchor="end" font-weight="normal" fill="#000" >3/0</text>
<text x="345.80" y="468.20" font-size="10.4" text-anchor="end" font-weight="normal" fill="#000" >7/0</text>
<text x="345.80" y="517.60" font-size="10.4" text-anchor="end" font-weight="normal" fill="#000" >7/2</text>
<text x="345.80" y="568.40" font-size="10.4" text-anchor="end" font-weight="normal" fill="#000" >7/5</text>
<line x1="348.60" y1="277.00" x2="348.60" y2="522.80" stroke="#ababab" stroke-width="1.0" />
<line x1="401.70" y1="275.00" x2="401.70" y2="573.20" stroke="#ababab" stroke-width="1.0" />
<line x1="455.40" y1="275.00" x2="455.40" y2="573.20" stroke="#ababab" stroke-width="1.0" />
<line x1="347.00" y1="324.30" x2="509.00" y2="324.30" stroke="#8a8a8a" stroke-width="0.9" />
<line x1="353.60" y1="323.50" x2="353.60" y2="325.10" stroke="#999" stroke-width="0.6" />
<line x1="358.60" y1="323.50" x2="358.60" y2="325.10" stroke="#999" stroke-width="0.6" />
<line x1="363.60" y1="323.50" x2="363.60" y2="325.10" stroke="#999" stroke-width="0.6" />
<line x1="368.60" y1="323.50" x2="368.60" y2="325.10" stroke="#999" stroke-width="0.6" />
<line x1="373.60" y1="323.50" x2="373.60" y2="325.10" stroke="#999" stroke-width="0.6" />
<line x1="378.60" y1="323.50" x2="378.60" y2="325.10" stroke="#999" stroke-width="0.6" />
<line x1="383.60" y1="323.50" x2="383.60" y2="325.10" stroke="#999" stroke-width="0.6" />
<line x1="388.60" y1="323.50" x2="388.60" y2="325.10" stroke="#999" stroke-width="0.6" />
<line x1="393.60" y1="323.50" x2="393.60" y2="325.10" stroke="#999" stroke-width="0.6" />
<line x1="398.60" y1="323.50" x2="398.60" y2="325.10" stroke="#999" stroke-width="0.6" />
<line x1="406.60" y1="323.50" x2="406.60" y2="325.10" stroke="#999" stroke-width="0.6" />
<line x1="411.60" y1="323.50" x2="411.60" y2="325.10" stroke="#999" stroke-width="0.6" />
<line x1="416.60" y1="323.50" x2="416.60" y2="325.10" stroke="#999" stroke-width="0.6" />
<line x1="421.60" y1="323.50" x2="421.60" y2="325.10" stroke="#999" stroke-width="0.6" />
<line x1="426.60" y1="323.50" x2="426.60" y2="325.10" stroke="#999" stroke-width="0.6" />
<line x1="431.60" y1="323.50" x2="431.60" y2="325.10" stroke="#999" stroke-width="0.6" />
<line x1="436.60" y1="323.50" x2="436.60" y2="325.10" stroke="#999" stroke-width="0.6" />
<line x1="441.60" y1="323.50" x2="441.60" y2="325.10" stroke="#999" stroke-width="0.6" />
<line x1="446.60" y1="323.50" x2="446.60" y2="325.10" stroke="#999" stroke-width="0.6" />
<line x1="451.60" y1="323.50" x2="451.60" y2="325.10" stroke="#999" stroke-width="0.6" />
<line x1="460.30" y1="323.50" x2="460.30" y2="325.10" stroke="#999" stroke-width="0.6" />
<line x1="465.30" y1="323.50" x2="465.30" y2="325.10" stroke="#999" stroke-width="0.6" />
<line x1="470.30" y1="323.50" x2="470.30" y2="325.10" stroke="#999" stroke-width="0.6" />
<line x1="475.30" y1="323.50" x2="475.30" y2="325.10" stroke="#999" stroke-width="0.6" />
<line x1="480.30" y1="323.50" x2="480.30" y2="325.10" stroke="#999" stroke-width="0.6" />
<line x1="485.30" y1="323.50" x2="485.30" y2="325.10" stroke="#999" stroke-width="0.6" />
<line x1="490.30" y1="323.50" x2="490.30" y2="325.10" stroke="#999" stroke-width="0.6" />
<line x1="495.30" y1="323.50" x2="495.30" y2="325.10" stroke="#999" stroke-width="0.6" />
<line x1="500.30" y1="323.50" x2="500.30" y2="325.10" stroke="#999" stroke-width="0.6" />
<line x1="505.30" y1="323.50" x2="505.30" y2="325.10" stroke="#999" stroke-width="0.6" />
<line x1="347.00" y1="373.80" x2="509.00" y2="373.80" stroke="#8a8a8a" stroke-width="0.9" />
<line x1="353.60" y1="373.00" x2="353.60" y2="374.60" stroke="#999" stroke-width="0.6" />
<line x1="358.60" y1="373.00" x2="358.60" y2="374.60" stroke="#999" stroke-width="0.6" />
<line x1="363.60" y1="373.00" x2="363.60" y2="374.60" stroke="#999" stroke-width="0.6" />
<line x1="368.60" y1="373.00" x2="368.60" y2="374.60" stroke="#999" stroke-width="0.6" />
<line x1="373.60" y1="373.00" x2="373.60" y2="374.60" stroke="#999" stroke-width="0.6" />
<line x1="378.60" y1="373.00" x2="378.60" y2="374.60" stroke="#999" stroke-width="0.6" />
<line x1="383.60" y1="373.00" x2="383.60" y2="374.60" stroke="#999" stroke-width="0.6" />
<line x1="388.60" y1="373.00" x2="388.60" y2="374.60" stroke="#999" stroke-width="0.6" />
<line x1="393.60" y1="373.00" x2="393.60" y2="374.60" stroke="#999" stroke-width="0.6" />
<line x1="398.60" y1="373.00" x2="398.60" y2="374.60" stroke="#999" stroke-width="0.6" />
<line x1="406.60" y1="373.00" x2="406.60" y2="374.60" stroke="#999" stroke-width="0.6" />
<line x1="411.60" y1="373.00" x2="411.60" y2="374.60" stroke="#999" stroke-width="0.6" />
<line x1="416.60" y1="373.00" x2="416.60" y2="374.60" stroke="#999" stroke-width="0.6" />
<line x1="421.60" y1="373.00" x2="421.60" y2="374.60" stroke="#999" stroke-width="0.6" />
<line x1="426.60" y1="373.00" x2="426.60" y2="374.60" stroke="#999" stroke-width="0.6" />
<line x1="431.60" y1="373.00" x2="431.60" y2="374.60" stroke="#999" stroke-width="0.6" />
<line x1="436.60" y1="373.00" x2="436.60" y2="374.60" stroke="#999" stroke-width="0.6" />
<line x1="441.60" y1="373.00" x2="441.60" y2="374.60" stroke="#999" stroke-width="0.6" />
<line x1="446.60" y1="373.00" x2="446.60" y2="374.60" stroke="#999" stroke-width="0.6" />
<line x1="451.60" y1="373.00" x2="451.60" y2="374.60" stroke="#999" stroke-width="0.6" />
<line x1="460.30" y1="373.00" x2="460.30" y2="374.60" stroke="#999" stroke-width="0.6" />
<line x1="465.30" y1="373.00" x2="465.30" y2="374.60" stroke="#999" stroke-width="0.6" />
<line x1="470.30" y1="373.00" x2="470.30" y2="374.60" stroke="#999" stroke-width="0.6" />
<line x1="475.30" y1="373.00" x2="475.30" y2="374.60" stroke="#999" stroke-width="0.6" />
<line x1="480.30" y1="373.00" x2="480.30" y2="374.60" stroke="#999" stroke-width="0.6" />
<line x1="485.30" y1="373.00" x2="485.30" y2="374.60" stroke="#999" stroke-width="0.6" />
<line x1="490.30" y1="373.00" x2="490.30" y2="374.60" stroke="#999" stroke-width="0.6" />
<line x1="495.30" y1="373.00" x2="495.30" y2="374.60" stroke="#999" stroke-width="0.6" />
<line x1="500.30" y1="373.00" x2="500.30" y2="374.60" stroke="#999" stroke-width="0.6" />
<line x1="505.30" y1="373.00" x2="505.30" y2="374.60" stroke="#999" stroke-width="0.6" />
<line x1="347.00" y1="423.30" x2="509.00" y2="423.30" stroke="#8a8a8a" stroke-width="0.9" />
<line x1="353.60" y1="422.50" x2="353.60" y2="424.10" stroke="#999" stroke-width="0.6" />
<line x1="358.60" y1="422.50" x2="358.60" y2="424.10" stroke="#999" stroke-width="0.6" />
<line x1="363.60" y1="422.50" x2="363.60" y2="424.10" stroke="#999" stroke-width="0.6" />
<line x1="368.60" y1="422.50" x2="368.60" y2="424.10" stroke="#999" stroke-width="0.6" />
<line x1="373.60" y1="422.50" x2="373.60" y2="424.10" stroke="#999" stroke-width="0.6" />
<line x1="378.60" y1="422.50" x2="378.60" y2="424.10" stroke="#999" stroke-width="0.6" />
<line x1="383.60" y1="422.50" x2="383.60" y2="424.10" stroke="#999" stroke-width="0.6" />
<line x1="388.60" y1="422.50" x2="388.60" y2="424.10" stroke="#999" stroke-width="0.6" />
<line x1="393.60" y1="422.50" x2="393.60" y2="424.10" stroke="#999" stroke-width="0.6" />
<line x1="398.60" y1="422.50" x2="398.60" y2="424.10" stroke="#999" stroke-width="0.6" />
<line x1="406.60" y1="422.50" x2="406.60" y2="424.10" stroke="#999" stroke-width="0.6" />
<line x1="411.60" y1="422.50" x2="411.60" y2="424.10" stroke="#999" stroke-width="0.6" />
<line x1="416.60" y1="422.50" x2="416.60" y2="424.10" stroke="#999" stroke-width="0.6" />
<line x1="421.60" y1="422.50" x2="421.60" y2="424.10" stroke="#999" stroke-width="0.6" />
<line x1="426.60" y1="422.50" x2="426.60" y2="424.10" stroke="#999" stroke-width="0.6" />
<line x1="431.60" y1="422.50" x2="431.60" y2="424.10" stroke="#999" stroke-width="0.6" />
<line x1="436.60" y1="422.50" x2="436.60" y2="424.10" stroke="#999" stroke-width="0.6" />
<line x1="441.60" y1="422.50" x2="441.60" y2="424.10" stroke="#999" stroke-width="0.6" />
<line x1="446.60" y1="422.50" x2="446.60" y2="424.10" stroke="#999" stroke-width="0.6" />
<line x1="451.60" y1="422.50" x2="451.60" y2="424.10" stroke="#999" stroke-width="0.6" />
<line x1="460.30" y1="422.50" x2="460.30" y2="424.10" stroke="#999" stroke-width="0.6" />
<line x1="465.30" y1="422.50" x2="465.30" y2="424.10" stroke="#999" stroke-width="0.6" />
<line x1="470.30" y1="422.50" x2="470.30" y2="424.10" stroke="#999" stroke-width="0.6" />
<line x1="475.30" y1="422.50" x2="475.30" y2="424.10" stroke="#999" stroke-width="0.6" />
<line x1="480.30" y1="422.50" x2="480.30" y2="424.10" stroke="#999" stroke-width="0.6" />
<line x1="485.30" y1="422.50" x2="485.30" y2="424.10" stroke="#999" stroke-width="0.6" />
<line x1="490.30" y1="422.50" x2="490.30" y2="424.10" stroke="#999" stroke-width="0.6" />
<line x1="495.30" y1="422.50" x2="495.30" y2="424.10" stroke="#999" stroke-width="0.6" />
<line x1="500.30" y1="422.50" x2="500.30" y2="424.10" stroke="#999" stroke-width="0.6" />
<line x1="505.30" y1="422.50" x2="505.30" y2="424.10" stroke="#999" stroke-width="0.6" />
<line x1="347.00" y1="473.20" x2="509.00" y2="473.20" stroke="#8a8a8a" stroke-width="0.9" />
<line x1="353.60" y1="472.40" x2="353.60" y2="474.00" stroke="#999" stroke-width="0.6" />
<line x1="358.60" y1="472.40" x2="358.60" y2="474.00" stroke="#999" stroke-width="0.6" />
<line x1="363.60" y1="472.40" x2="363.60" y2="474.00" stroke="#999" stroke-width="0.6" />
<line x1="368.60" y1="472.40" x2="368.60" y2="474.00" stroke="#999" stroke-width="0.6" />
<line x1="373.60" y1="472.40" x2="373.60" y2="474.00" stroke="#999" stroke-width="0.6" />
<line x1="378.60" y1="472.40" x2="378.60" y2="474.00" stroke="#999" stroke-width="0.6" />
<line x1="383.60" y1="472.40" x2="383.60" y2="474.00" stroke="#999" stroke-width="0.6" />
<line x1="388.60" y1="472.40" x2="388.60" y2="474.00" stroke="#999" stroke-width="0.6" />
<line x1="393.60" y1="472.40" x2="393.60" y2="474.00" stroke="#999" stroke-width="0.6" />
<line x1="398.60" y1="472.40" x2="398.60" y2="474.00" stroke="#999" stroke-width="0.6" />
<line x1="406.60" y1="472.40" x2="406.60" y2="474.00" stroke="#999" stroke-width="0.6" />
<line x1="411.60" y1="472.40" x2="411.60" y2="474.00" stroke="#999" stroke-width="0.6" />
<line x1="416.60" y1="472.40" x2="416.60" y2="474.00" stroke="#999" stroke-width="0.6" />
<line x1="421.60" y1="472.40" x2="421.60" y2="474.00" stroke="#999" stroke-width="0.6" />
<line x1="426.60" y1="472.40" x2="426.60" y2="474.00" stroke="#999" stroke-width="0.6" />
<line x1="431.60" y1="472.40" x2="431.60" y2="474.00" stroke="#999" stroke-width="0.6" />
<line x1="436.60" y1="472.40" x2="436.60" y2="474.00" stroke="#999" stroke-width="0.6" />
<line x1="441.60" y1="472.40" x2="441.60" y2="474.00" stroke="#999" stroke-width="0.6" />
<line x1="446.60" y1="472.40" x2="446.60" y2="474.00" stroke="#999" stroke-width="0.6" />
<line x1="451.60" y1="472.40" x2="451.60" y2="474.00" stroke="#999" stroke-width="0.6" />
<line x1="460.30" y1="472.40" x2="460.30" y2="474.00" stroke="#999" stroke-width="0.6" />
<line x1="465.30" y1="472.40" x2="465.30" y2="474.00" stroke="#999" stroke-width="0.6" />
<line x1="470.30" y1="472.40" x2="470.30" y2="474.00" stroke="#999" stroke-width="0.6" />
<line x1="475.30" y1="472.40" x2="475.30" y2="474.00" stroke="#999" stroke-width="0.6" />
<line x1="480.30" y1="472.40" x2="480.30" y2="474.00" stroke="#999" stroke-width="0.6" />
<line x1="485.30" y1="472.40" x2="485.30" y2="474.00" stroke="#999" stroke-width="0.6" />
<line x1="490.30" y1="472.40" x2="490.30" y2="474.00" stroke="#999" stroke-width="0.6" />
<line x1="495.30" y1="472.40" x2="495.30" y2="474.00" stroke="#999" stroke-width="0.6" />
<line x1="500.30" y1="472.40" x2="500.30" y2="474.00" stroke="#999" stroke-width="0.6" />
<line x1="505.30" y1="472.40" x2="505.30" y2="474.00" stroke="#999" stroke-width="0.6" />
<line x1="347.00" y1="522.80" x2="509.00" y2="522.80" stroke="#8a8a8a" stroke-width="0.9" />
<line x1="353.60" y1="522.00" x2="353.60" y2="523.60" stroke="#999" stroke-width="0.6" />
<line x1="358.60" y1="522.00" x2="358.60" y2="523.60" stroke="#999" stroke-width="0.6" />
<line x1="363.60" y1="522.00" x2="363.60" y2="523.60" stroke="#999" stroke-width="0.6" />
<line x1="368.60" y1="522.00" x2="368.60" y2="523.60" stroke="#999" stroke-width="0.6" />
<line x1="373.60" y1="522.00" x2="373.60" y2="523.60" stroke="#999" stroke-width="0.6" />
<line x1="378.60" y1="522.00" x2="378.60" y2="523.60" stroke="#999" stroke-width="0.6" />
<line x1="383.60" y1="522.00" x2="383.60" y2="523.60" stroke="#999" stroke-width="0.6" />
<line x1="388.60" y1="522.00" x2="388.60" y2="523.60" stroke="#999" stroke-width="0.6" />
<line x1="393.60" y1="522.00" x2="393.60" y2="523.60" stroke="#999" stroke-width="0.6" />
<line x1="398.60" y1="522.00" x2="398.60" y2="523.60" stroke="#999" stroke-width="0.6" />
<line x1="406.60" y1="522.00" x2="406.60" y2="523.60" stroke="#999" stroke-width="0.6" />
<line x1="411.60" y1="522.00" x2="411.60" y2="523.60" stroke="#999" stroke-width="0.6" />
<line x1="416.60" y1="522.00" x2="416.60" y2="523.60" stroke="#999" stroke-width="0.6" />
<line x1="421.60" y1="522.00" x2="421.60" y2="523.60" stroke="#999" stroke-width="0.6" />
<line x1="426.60" y1="522.00" x2="426.60" y2="523.60" stroke="#999" stroke-width="0.6" />
<line x1="431.60" y1="522.00" x2="431.60" y2="523.60" stroke="#999" stroke-width="0.6" />
<line x1="436.60" y1="522.00" x2="436.60" y2="523.60" stroke="#999" stroke-width="0.6" />
<line x1="441.60" y1="522.00" x2="441.60" y2="523.60" stroke="#999" stroke-width="0.6" />
<line x1="446.60" y1="522.00" x2="446.60" y2="523.60" stroke="#999" stroke-width="0.6" />
<line x1="451.60" y1="522.00" x2="451.60" y2="523.60" stroke="#999" stroke-width="0.6" />
<line x1="460.30" y1="522.00" x2="460.30" y2="523.60" stroke="#999" stroke-width="0.6" />
<line x1="465.30" y1="522.00" x2="465.30" y2="523.60" stroke="#999" stroke-width="0.6" />
<line x1="470.30" y1="522.00" x2="470.30" y2="523.60" stroke="#999" stroke-width="0.6" />
<line x1="475.30" y1="522.00" x2="475.30" y2="523.60" stroke="#999" stroke-width="0.6" />
<line x1="480.30" y1="522.00" x2="480.30" y2="523.60" stroke="#999" stroke-width="0.6" />
<line x1="485.30" y1="522.00" x2="485.30" y2="523.60" stroke="#999" stroke-width="0.6" />
<line x1="490.30" y1="522.00" x2="490.30" y2="523.60" stroke="#999" stroke-width="0.6" />
<line x1="495.30" y1="522.00" x2="495.30" y2="523.60" stroke="#999" stroke-width="0.6" />
<line x1="500.30" y1="522.00" x2="500.30" y2="523.60" stroke="#999" stroke-width="0.6" />
<line x1="505.30" y1="522.00" x2="505.30" y2="523.60" stroke="#999" stroke-width="0.6" />
<line x1="400.00" y1="573.20" x2="509.00" y2="573.20" stroke="#8a8a8a" stroke-width="0.9" />
<line x1="406.60" y1="572.40" x2="406.60" y2="574.00" stroke="#999" stroke-width="0.6" />
<line x1="411.60" y1="572.40" x2="411.60" y2="574.00" stroke="#999" stroke-width="0.6" />
<line x1="416.60" y1="572.40" x2="416.60" y2="574.00" stroke="#999" stroke-width="0.6" />
<line x1="421.60" y1="572.40" x2="421.60" y2="574.00" stroke="#999" stroke-width="0.6" />
<line x1="426.60" y1="572.40" x2="426.60" y2="574.00" stroke="#999" stroke-width="0.6" />
<line x1="431.60" y1="572.40" x2="431.60" y2="574.00" stroke="#999" stroke-width="0.6" />
<line x1="436.60" y1="572.40" x2="436.60" y2="574.00" stroke="#999" stroke-width="0.6" />
<line x1="441.60" y1="572.40" x2="441.60" y2="574.00" stroke="#999" stroke-width="0.6" />
<line x1="446.60" y1="572.40" x2="446.60" y2="574.00" stroke="#999" stroke-width="0.6" />
<line x1="451.60" y1="572.40" x2="451.60" y2="574.00" stroke="#999" stroke-width="0.6" />
<line x1="460.30" y1="572.40" x2="460.30" y2="574.00" stroke="#999" stroke-width="0.6" />
<line x1="465.30" y1="572.40" x2="465.30" y2="574.00" stroke="#999" stroke-width="0.6" />
<line x1="470.30" y1="572.40" x2="470.30" y2="574.00" stroke="#999" stroke-width="0.6" />
<line x1="475.30" y1="572.40" x2="475.30" y2="574.00" stroke="#999" stroke-width="0.6" />
<line x1="480.30" y1="572.40" x2="480.30" y2="574.00" stroke="#999" stroke-width="0.6" />
<line x1="485.30" y1="572.40" x2="485.30" y2="574.00" stroke="#999" stroke-width="0.6" />
<line x1="490.30" y1="572.40" x2="490.30" y2="574.00" stroke="#999" stroke-width="0.6" />
<line x1="495.30" y1="572.40" x2="495.30" y2="574.00" stroke="#999" stroke-width="0.6" />
<line x1="500.30" y1="572.40" x2="500.30" y2="574.00" stroke="#999" stroke-width="0.6" />
<line x1="505.30" y1="572.40" x2="505.30" y2="574.00" stroke="#999" stroke-width="0.6" />
<line x1="350.80" y1="582.90" x2="503.50" y2="582.90" stroke="#000" stroke-width="1.2" />
<path d="M508.5,582.9 L501.5,579.6 L501.5,586.2 Z" fill="#000"/>
<text x="356.6" y="597.3" font-size="10.85">DiOC<tspan font-size="10.2" dy="5">6</tspan><tspan dy="-5">(3) fluorescence (FL-1)</tspan></text>
<path d="M405.00,324.30 C405.38,324.20 406.35,324.02 408.00,323.50 C409.65,322.98 415.90,320.14 418.00,320.20 C420.10,320.26 423.61,323.65 424.60,324.00 C425.59,324.30 425.31,324.01 425.80,323.00 C426.29,321.99 427.80,317.98 428.50,316.00 C429.20,314.02 430.76,310.06 431.30,307.40 C431.84,304.74 432.43,298.93 432.80,295.00 C433.17,291.07 433.73,276.40 434.20,276.40 C434.67,276.40 435.96,290.11 436.50,295.00 C437.04,299.89 438.04,311.33 438.50,315.00 C438.96,318.67 439.90,322.86 440.10,324.00" fill="none" stroke="#858585" stroke-width="0.85" stroke-linejoin="round"/>
<path d="M352.00,373.50 C353.63,373.31 362.99,373.50 364.90,372.00 C366.81,368.39 366.59,350.32 367.10,345.00 C367.61,339.68 368.56,332.29 368.90,330.00 C369.24,327.71 369.47,325.63 369.80,326.90 C370.13,328.17 371.06,336.95 371.50,340.00 C371.94,343.05 372.87,348.97 373.30,351.00 C373.73,353.03 374.28,354.48 374.90,356.00 C375.52,357.52 377.50,363.10 378.20,363.00 C378.90,362.90 379.79,355.83 380.40,355.20 C381.01,354.57 382.44,356.76 383.00,358.00 C383.56,359.24 384.23,363.06 384.80,365.00 C385.37,366.94 387.16,372.25 387.50,373.30" fill="none" stroke="#858585" stroke-width="0.85" stroke-linejoin="round"/>
<path d="M404.00,373.50 C404.94,373.44 409.77,373.50 411.40,373.00 C413.03,372.30 415.79,369.47 416.90,368.00 C418.01,366.53 419.44,361.65 420.20,361.40 C420.96,361.15 422.19,364.89 422.90,366.00 C423.61,367.11 425.08,371.59 425.80,370.20 C426.52,368.81 427.90,359.46 428.60,355.00 C429.30,350.54 430.68,338.76 431.30,335.00 C431.92,331.24 432.94,324.67 433.50,325.30 C434.06,325.93 435.28,337.12 435.70,340.00 C436.12,342.88 436.38,345.47 436.80,348.00 C437.22,350.53 438.44,356.80 439.00,360.00 C439.56,363.20 440.92,371.62 441.20,373.30" fill="none" stroke="#858585" stroke-width="0.85" stroke-linejoin="round"/>
<path d="M350.50,423.00 C350.92,422.87 352.53,422.63 353.80,422.00 C355.07,421.37 359.09,419.52 360.50,418.00 C361.91,416.48 364.11,413.55 364.90,410.00 C365.69,406.45 366.33,394.40 366.70,390.00 C367.07,385.60 367.47,377.07 367.80,375.30 C368.13,373.53 368.97,372.87 369.30,376.00 C369.63,379.13 369.97,395.69 370.40,400.00 C370.83,404.31 372.13,407.47 372.70,410.00 C373.27,412.53 374.34,418.32 374.90,420.00 C375.46,421.68 376.82,422.88 377.10,423.30" fill="none" stroke="#858585" stroke-width="0.85" stroke-linejoin="round"/>
<path d="M404.00,423.30 C404.66,423.26 407.84,423.30 409.20,423.00 C410.56,421.95 413.72,416.84 414.70,415.00 C415.68,413.16 416.39,410.40 416.90,408.50 C417.41,406.60 418.19,402.15 418.70,400.00 C419.21,397.85 420.29,391.50 420.90,391.50 C421.51,391.50 422.74,397.40 423.50,400.00 C424.26,402.60 426.19,409.52 426.90,412.00 C427.61,414.48 428.54,420.49 429.10,419.60 C429.66,418.71 430.79,409.38 431.30,405.00 C431.81,400.62 432.68,388.76 433.10,385.00 C433.52,381.24 434.21,375.93 434.60,375.30 C434.99,374.67 435.78,376.24 436.20,380.00 C436.62,383.76 437.41,399.93 437.90,405.00 C438.39,410.07 439.54,417.68 440.10,420.00 C440.66,422.32 442.02,422.88 442.30,423.30" fill="none" stroke="#858585" stroke-width="0.85" stroke-linejoin="round"/>
<path d="M404.00,473.20 C404.80,473.17 409.36,473.20 410.30,473.00 C411.24,471.33 410.98,464.18 411.40,460.00 C411.82,455.82 413.04,444.37 413.60,440.00 C414.16,435.63 415.24,426.39 415.80,425.50 C416.36,424.61 417.49,431.87 418.00,433.00 C418.51,434.13 419.38,432.25 419.80,434.40 C420.22,436.55 420.83,446.50 421.30,450.00 C421.77,453.50 422.93,459.77 423.50,462.00 C424.07,464.23 425.15,467.47 425.80,467.60 C426.45,467.73 427.90,465.23 428.60,463.00 C429.30,460.77 430.63,451.80 431.30,450.00 C431.97,448.20 433.34,447.53 433.90,448.80 C434.46,450.07 435.24,456.91 435.70,460.00 C436.16,463.09 437.27,471.53 437.50,473.20" fill="none" stroke="#858585" stroke-width="0.85" stroke-linejoin="round"/>
<path d="M404.00,522.80 C404.38,522.76 406.34,522.80 407.00,522.50 C407.66,521.51 408.71,519.12 409.20,515.00 C409.69,510.88 410.48,494.59 410.90,490.00 C411.32,485.41 412.16,480.55 412.50,478.80 C412.84,477.05 413.23,475.49 413.60,476.20 C413.97,476.91 414.98,484.07 415.40,484.40 C415.82,484.73 416.43,477.46 416.90,478.80 C417.37,480.14 418.54,491.68 419.10,495.00 C419.66,498.32 420.74,502.47 421.30,505.00 C421.86,507.53 422.85,512.78 423.50,515.00 C424.15,517.22 425.55,522.31 426.40,522.50 C427.25,522.69 429.35,516.69 430.20,516.50 C431.05,516.31 432.26,521.00 433.10,521.00 C433.94,521.00 435.63,516.27 436.80,516.50 C437.97,516.73 441.60,522.00 442.30,522.80" fill="none" stroke="#858585" stroke-width="0.85" stroke-linejoin="round"/>
<path d="M458.10,521.50 C459.29,521.44 465.80,521.30 467.50,521.00 C469.20,520.70 470.65,519.23 471.50,519.10 C472.35,518.97 473.43,520.34 474.20,520.00 C474.97,519.66 476.92,517.67 477.60,516.40 C478.28,515.13 479.04,511.41 479.60,510.00 C480.16,508.59 481.35,505.50 482.00,505.30 C482.65,505.10 484.12,509.70 484.70,508.40 C485.28,507.10 486.13,498.60 486.60,495.00 C487.07,491.40 487.96,482.66 488.40,480.00 C488.84,477.34 489.68,474.00 490.10,474.00 C490.52,474.00 491.32,476.71 491.70,480.00 C492.08,483.29 492.76,494.62 493.10,500.00 C493.44,505.38 494.24,519.65 494.40,522.50" fill="none" stroke="#858585" stroke-width="0.85" stroke-linejoin="round"/>
<path d="M404.00,573.20 C404.66,573.17 408.33,573.20 409.20,573.00 C410.07,571.96 410.48,569.18 410.90,565.00 C411.32,560.82 412.11,544.84 412.50,540.00 C412.89,535.16 413.63,528.52 414.00,526.80 C414.37,525.08 415.03,525.99 415.40,526.40 C415.77,526.81 416.51,530.09 416.90,530.00 C417.29,529.91 418.08,525.07 418.50,525.70 C418.92,526.33 419.71,531.29 420.20,535.00 C420.69,538.71 421.78,550.57 422.40,555.00 C423.02,559.43 424.39,567.72 425.10,570.00 C425.81,572.28 426.38,572.75 428.00,573.00 C429.62,573.20 436.42,572.58 437.90,572.00 C439.38,571.42 439.14,568.25 439.70,568.40 C440.26,568.55 441.97,572.59 442.30,573.20" fill="none" stroke="#858585" stroke-width="0.85" stroke-linejoin="round"/>
<path d="M458.10,572.50 C458.78,572.44 462.47,572.16 463.50,572.00 C464.53,571.84 465.35,571.20 466.20,571.20 C467.05,571.20 468.93,572.00 470.20,572.00 C471.47,572.00 475.10,571.90 476.20,571.20 C477.30,570.50 478.13,567.53 478.90,566.50 C479.67,565.47 481.62,563.71 482.30,563.10 C482.98,562.49 483.79,561.54 484.30,561.70 C484.81,561.86 485.70,564.65 486.30,564.40 C486.90,564.15 488.48,562.79 489.00,559.70 C489.52,556.61 490.06,544.18 490.40,540.00 C490.74,535.82 491.36,527.97 491.70,526.70 C492.04,525.43 492.67,527.05 493.10,530.00 C493.53,532.95 494.59,544.93 495.10,550.00 C495.61,555.07 496.67,567.06 497.10,570.00 C497.53,572.94 498.32,572.79 498.50,573.20" fill="none" stroke="#858585" stroke-width="0.85" stroke-linejoin="round"/>
<polyline points="350.50,324.30 351.00,324.30 351.50,324.30 352.00,324.30 352.50,324.30 353.00,324.30 353.50,324.30 354.00,324.30 354.50,324.30 355.00,324.30 355.50,324.30 356.00,324.30 356.50,324.30 357.00,324.30 357.50,324.30 358.00,324.30 358.50,324.30 359.00,324.30 359.50,324.29 360.00,324.27 360.50,324.24 361.00,324.19 361.50,324.08 362.00,323.90 362.50,323.62 363.00,323.22 363.50,322.68 364.00,322.01 364.50,321.27 365.00,320.53 365.50,319.89 366.00,319.45 366.50,319.30 367.00,319.41 367.50,319.72 368.00,320.19 368.50,320.77 369.00,321.39 369.50,322.01 370.00,322.57 370.50,323.05 371.00,323.44 371.50,323.73 372.00,323.94 372.50,324.08 373.00,324.17 373.50,324.23 374.00,324.26 374.50,324.28 375.00,324.29 375.50,324.30 376.00,324.30 376.50,324.30 377.00,324.30 377.50,324.30 378.00,324.28 378.50,324.25 379.00,324.16 379.50,323.93 380.00,323.40 380.50,322.33 381.00,320.33 381.50,316.96 382.00,311.86 382.50,304.96 383.00,296.73 383.50,288.25 384.00,281.06 384.50,276.75 385.00,276.30 385.50,279.52 386.00,285.62 386.50,293.38 387.00,301.41 387.50,308.62 388.00,314.35 388.50,318.46 389.00,321.13 389.50,322.70 390.00,323.56 390.50,323.98 391.00,324.17 391.50,324.25 392.00,324.28 392.50,324.29 393.00,324.30 393.50,324.30 394.00,324.30 394.50,324.30 395.00,324.30 395.50,324.30 396.00,324.30 396.50,324.30 397.00,324.30 397.50,324.30 398.00,324.30 398.50,324.30 399.00,324.30 399.50,324.30 400.00,324.30" fill="none" stroke="#858585" stroke-width="0.85" stroke-linejoin="round"/>
<polyline points="458.00,324.30 458.50,324.30 459.00,324.30 459.50,324.30 460.00,324.30 460.50,324.30 461.00,324.30 461.50,324.30 462.00,324.30 462.50,324.30 463.00,324.30 463.50,324.30 464.00,324.30 464.50,324.30 465.00,324.30 465.50,324.30 466.00,324.30 466.50,324.30 467.00,324.30 467.50,324.30 468.00,324.30 468.50,324.30 469.00,324.30 469.50,324.30 470.00,324.30 470.50,324.30 471.00,324.30 471.50,324.30 472.00,324.30 472.50,324.30 473.00,324.30 473.50,324.30 474.00,324.30 474.50,324.30 475.00,324.30 475.50,324.30 476.00,324.30 476.50,324.30 477.00,324.30 477.50,324.30 478.00,324.30 478.50,324.29 479.00,324.28 479.50,324.26 480.00,324.20 480.50,324.08 481.00,323.84 481.50,323.37 482.00,322.53 482.50,321.13 483.00,318.92 483.50,315.69 484.00,311.28 484.50,305.69 485.00,299.16 485.50,292.22 486.00,285.62 486.50,280.24 487.00,276.87 487.50,276.07 488.00,278.35 488.50,283.45 489.00,290.42 489.50,298.08 490.00,305.36 490.50,311.54 491.00,316.28 491.50,319.59 492.00,321.72 492.50,322.98 493.00,323.67 493.50,324.02 494.00,324.18 494.50,324.26 495.00,324.28 495.50,324.29 496.00,324.30 496.50,324.30 497.00,324.30 497.50,324.30 498.00,324.30 498.50,324.30 499.00,324.30 499.50,324.30 500.00,324.30 500.50,324.30 501.00,324.30 501.50,324.30 502.00,324.30 502.50,324.30 503.00,324.30 503.50,324.30 504.00,324.30 504.50,324.30 505.00,324.30 505.50,324.30 506.00,324.30 506.50,324.30 507.00,324.30" fill="none" stroke="#858585" stroke-width="0.85" stroke-linejoin="round"/>
<polyline points="458.00,373.80 458.50,373.80 459.00,373.80 459.50,373.80 460.00,373.80 460.50,373.80 461.00,373.80 461.50,373.80 462.00,373.80 462.50,373.80 463.00,373.80 463.50,373.80 464.00,373.80 464.50,373.80 465.00,373.80 465.50,373.80 466.00,373.80 466.50,373.80 467.00,373.80 467.50,373.80 468.00,373.80 468.50,373.80 469.00,373.79 469.50,373.79 470.00,373.78 470.50,373.77 471.00,373.75 471.50,373.72 472.00,373.68 472.50,373.62 473.00,373.54 473.50,373.43 474.00,373.28 474.50,373.08 475.00,372.83 475.50,372.52 476.00,372.13 476.50,371.68 477.00,371.15 477.50,370.56 478.00,369.91 478.50,369.22 479.00,368.50 479.50,367.79 480.00,367.12 480.50,366.52 481.00,366.01 481.50,365.62 482.00,365.38 482.50,365.30 483.00,365.42 483.50,364.93 484.00,359.89 484.50,353.43 485.00,345.99 485.50,338.36 486.00,331.66 486.50,327.05 487.00,325.40 487.50,326.89 488.00,331.09 488.50,337.27 489.00,344.44 489.50,351.64 490.00,358.09 490.50,363.33 491.00,367.25 491.50,369.95 492.00,371.67 492.50,372.70 493.00,373.26 493.50,373.55 494.00,373.69 494.50,373.76 495.00,373.78 495.50,373.79 496.00,373.80 496.50,373.80 497.00,373.80 497.50,373.80 498.00,373.80 498.50,373.80 499.00,373.80 499.50,373.80 500.00,373.80 500.50,373.80 501.00,373.80 501.50,373.80 502.00,373.80 502.50,373.80 503.00,373.80 503.50,373.80 504.00,373.80 504.50,373.80 505.00,373.80 505.50,373.80 506.00,373.80 506.50,373.80 507.00,373.80" fill="none" stroke="#858585" stroke-width="0.85" stroke-linejoin="round"/>
<polyline points="458.00,423.30 458.50,423.30 459.00,423.30 459.50,423.30 460.00,423.30 460.50,423.30 461.00,423.30 461.50,423.30 462.00,423.30 462.50,423.30 463.00,423.30 463.50,423.30 464.00,423.30 464.50,423.29 465.00,423.28 465.50,423.27 466.00,423.24 466.50,423.20 467.00,423.14 467.50,423.05 468.00,422.92 468.50,422.75 469.00,422.53 469.50,422.27 470.00,421.97 470.50,421.66 471.00,421.35 471.50,421.08 472.00,420.86 472.50,420.73 473.00,420.70 473.50,420.77 474.00,420.94 474.50,421.18 475.00,421.47 475.50,421.79 476.00,422.09 476.50,422.38 477.00,422.62 477.50,422.82 478.00,422.98 478.50,423.09 479.00,423.17 479.50,423.22 480.00,423.25 480.50,423.27 481.00,423.29 481.50,423.29 482.00,423.26 482.50,423.19 483.00,423.02 483.50,422.62 484.00,421.81 484.50,420.26 485.00,417.60 485.50,413.45 486.00,407.61 486.50,400.28 487.00,392.16 487.50,384.48 488.00,378.70 488.50,376.08 489.00,376.94 489.50,380.55 490.00,386.28 490.50,393.18 491.00,400.28 491.50,406.77 492.00,412.15 492.50,416.23 493.00,419.09 493.50,420.95 494.00,422.06 494.50,422.69 495.00,423.02 495.50,423.18 496.00,423.25 496.50,423.28 497.00,423.29 497.50,423.30 498.00,423.30 498.50,423.30 499.00,423.30 499.50,423.30 500.00,423.30 500.50,423.30 501.00,423.30 501.50,423.30 502.00,423.30 502.50,423.30 503.00,423.30 503.50,423.30 504.00,423.30 504.50,423.30 505.00,423.30 505.50,423.30 506.00,423.30 506.50,423.30 507.00,423.30" fill="none" stroke="#858585" stroke-width="0.85" stroke-linejoin="round"/>
<polyline points="350.50,473.20 351.00,473.20 351.50,473.20 352.00,473.19 352.50,473.19 353.00,473.18 353.50,473.16 354.00,473.12 354.50,473.06 355.00,472.95 355.50,472.79 356.00,472.55 356.50,472.20 357.00,471.73 357.50,471.12 358.00,470.36 358.50,469.49 359.00,468.54 359.50,467.58 360.00,466.68 360.50,465.94 361.00,465.43 361.50,465.21 362.00,465.36 362.50,465.97 363.00,466.94 363.50,467.52 364.00,462.27 364.50,454.54 365.00,444.91 365.50,435.12 366.00,427.69 366.50,424.90 367.00,428.34 367.50,437.27 368.00,448.38 368.50,458.41 369.00,465.60 369.50,469.83 370.00,471.91 370.50,472.78 371.00,473.08 371.50,473.17 372.00,473.19 372.50,473.20 373.00,473.20 373.50,473.20 374.00,473.20 374.50,473.20 375.00,473.20 375.50,473.20 376.00,473.20 376.50,473.20 377.00,473.20 377.50,473.20 378.00,473.20 378.50,473.20 379.00,473.20 379.50,473.20 380.00,473.20 380.50,473.20 381.00,473.20 381.50,473.20 382.00,473.20 382.50,473.20 383.00,473.20 383.50,473.20 384.00,473.20 384.50,473.20 385.00,473.20 385.50,473.20 386.00,473.20 386.50,473.20 387.00,473.20 387.50,473.20 388.00,473.20 388.50,473.20 389.00,473.20 389.50,473.20 390.00,473.20 390.50,473.20 391.00,473.20 391.50,473.20 392.00,473.20 392.50,473.20 393.00,473.20 393.50,473.20 394.00,473.20 394.50,473.20 395.00,473.20 395.50,473.20 396.00,473.20 396.50,473.20 397.00,473.20 397.50,473.20 398.00,473.20 398.50,473.20 399.00,473.20 399.50,473.20 400.00,473.20" fill="none" stroke="#858585" stroke-width="0.85" stroke-linejoin="round"/>
<polyline points="458.00,473.20 458.50,473.20 459.00,473.20 459.50,473.20 460.00,473.20 460.50,473.20 461.00,473.20 461.50,473.20 462.00,473.20 462.50,473.20 463.00,473.20 463.50,473.19 464.00,473.18 464.50,473.16 465.00,473.13 465.50,473.06 466.00,472.96 466.50,472.80 467.00,472.59 467.50,472.32 468.00,472.00 468.50,471.67 469.00,471.36 469.50,471.13 470.00,471.01 470.50,471.02 471.00,471.17 471.50,471.42 472.00,471.73 472.50,472.06 473.00,472.37 473.50,472.64 474.00,472.84 474.50,472.98 475.00,473.08 475.50,473.03 476.00,472.87 476.50,472.61 477.00,472.20 477.50,471.60 478.00,470.80 478.50,469.81 479.00,468.71 479.50,467.61 480.00,466.67 480.50,466.03 481.00,465.80 481.50,466.03 482.00,466.67 482.50,467.61 483.00,464.41 483.50,459.12 484.00,452.34 484.50,444.57 485.00,436.84 485.50,430.44 486.00,426.65 486.50,426.45 487.00,431.19 487.50,439.69 488.00,449.46 488.50,458.27 489.00,464.86 489.50,469.07 490.00,471.38 490.50,472.49 491.00,472.95 491.50,473.12 492.00,473.18 492.50,473.19 493.00,473.20 493.50,473.20 494.00,473.20 494.50,473.20 495.00,473.20 495.50,473.20 496.00,473.20 496.50,473.20 497.00,473.20 497.50,473.20 498.00,473.20 498.50,473.20 499.00,473.20 499.50,473.20 500.00,473.20 500.50,473.20 501.00,473.20 501.50,473.20 502.00,473.20 502.50,473.20 503.00,473.20 503.50,473.20 504.00,473.20 504.50,473.20 505.00,473.20 505.50,473.20 506.00,473.20 506.50,473.20 507.00,473.20" fill="none" stroke="#858585" stroke-width="0.85" stroke-linejoin="round"/>
<polyline points="350.50,522.80 351.00,522.80 351.50,522.80 352.00,522.80 352.50,522.79 353.00,522.78 353.50,522.76 354.00,522.73 354.50,522.68 355.00,522.60 355.50,522.46 356.00,522.27 356.50,521.99 357.00,521.61 357.50,521.13 358.00,520.55 358.50,519.88 359.00,519.16 359.50,518.44 360.00,517.79 360.50,517.26 361.00,516.92 361.50,516.80 362.00,517.12 362.50,518.00 363.00,519.16 363.50,516.32 364.00,509.48 364.50,499.48 365.00,488.02 365.50,478.58 366.00,474.90 366.50,478.08 367.00,486.39 367.50,496.96 368.00,506.81 368.50,514.18 369.00,518.74 369.50,521.14 370.00,522.21 370.50,522.61 371.00,522.75 371.50,522.79 372.00,522.80 372.50,522.80 373.00,522.80 373.50,522.80 374.00,522.80 374.50,522.80 375.00,522.80 375.50,522.80 376.00,522.80 376.50,522.80 377.00,522.80 377.50,522.80 378.00,522.80 378.50,522.80 379.00,522.80 379.50,522.80 380.00,522.80 380.50,522.80 381.00,522.80 381.50,522.80 382.00,522.80 382.50,522.80 383.00,522.80 383.50,522.80 384.00,522.80 384.50,522.80 385.00,522.80 385.50,522.80 386.00,522.80 386.50,522.80 387.00,522.80 387.50,522.80 388.00,522.80 388.50,522.80 389.00,522.80 389.50,522.80 390.00,522.80 390.50,522.80 391.00,522.80 391.50,522.80 392.00,522.80 392.50,522.80 393.00,522.80 393.50,522.80 394.00,522.80 394.50,522.80 395.00,522.80 395.50,522.80 396.00,522.80 396.50,522.80 397.00,522.80 397.50,522.80 398.00,522.80 398.50,522.80 399.00,522.80 399.50,522.80 400.00,522.80" fill="none" stroke="#858585" stroke-width="0.85" stroke-linejoin="round"/>
</svg></body></html>
